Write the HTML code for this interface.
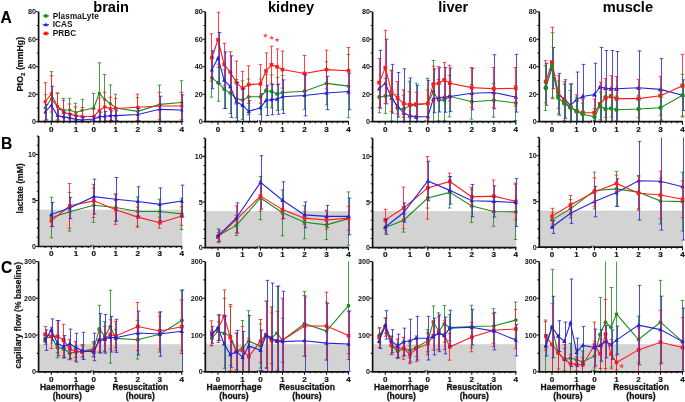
<!DOCTYPE html>
<html><head><meta charset="utf-8"><style>
html,body{margin:0;padding:0;background:#fff;}
svg{display:block;will-change:transform;}
</style></head><body>
<svg width="685" height="402" viewBox="0 0 685 402">
<rect width="685" height="402" fill="#fff"/>
<clipPath id="clipA0"><rect x="35.3" y="-8.3" width="154" height="130"/></clipPath>
<g clip-path="url(#clipA0)">
<path d="M45.5 94.75V121.15M43.7 94.75H47.3M43.7 121.15H47.3" stroke="#1e8a1e" stroke-width="1" stroke-opacity="0.82" fill="none"/>
<path d="M51.5 71.65V121.7M49.7 71.65H53.3M49.7 121.7H53.3" stroke="#1e8a1e" stroke-width="1" stroke-opacity="0.82" fill="none"/>
<path d="M57.5 93.65V120.05M55.7 93.65H59.3M55.7 120.05H59.3" stroke="#1e8a1e" stroke-width="1" stroke-opacity="0.82" fill="none"/>
<path d="M63.5 98.33V121.7M61.7 98.33H65.3M61.7 121.7H65.3" stroke="#1e8a1e" stroke-width="1" stroke-opacity="0.82" fill="none"/>
<path d="M69.5 98.33V121.7M67.7 98.33H71.3M67.7 121.7H71.3" stroke="#1e8a1e" stroke-width="1" stroke-opacity="0.82" fill="none"/>
<path d="M75.5 103.28V121.7M73.7 103.28H77.3M73.7 121.7H77.3" stroke="#1e8a1e" stroke-width="1" stroke-opacity="0.82" fill="none"/>
<path d="M82.5 99.29V121.56M80.7 99.29H84.3M80.7 121.56H84.3" stroke="#1e8a1e" stroke-width="1" stroke-opacity="0.82" fill="none"/>
<path d="M93.5 93.38V121.7M91.7 93.38H95.3M91.7 121.7H95.3" stroke="#1e8a1e" stroke-width="1" stroke-opacity="0.82" fill="none"/>
<path d="M99.5 62.85V121.7M97.7 62.85H101.3M97.7 121.7H101.3" stroke="#1e8a1e" stroke-width="1" stroke-opacity="0.82" fill="none"/>
<path d="M104.5 74.54V121.7M102.7 74.54H106.3M102.7 121.7H106.3" stroke="#1e8a1e" stroke-width="1" stroke-opacity="0.82" fill="none"/>
<path d="M110.5 84.99V121.7M108.7 84.99H112.3M108.7 121.7H112.3" stroke="#1e8a1e" stroke-width="1" stroke-opacity="0.82" fill="none"/>
<path d="M115.5 94.2V121.7M113.7 94.2H117.3M113.7 121.7H117.3" stroke="#1e8a1e" stroke-width="1" stroke-opacity="0.82" fill="none"/>
<path d="M137.5 97.64V121.7M135.7 97.64H139.3M135.7 121.7H139.3" stroke="#1e8a1e" stroke-width="1" stroke-opacity="0.82" fill="none"/>
<path d="M159.5 85.12V121.7M157.7 85.12H161.3M157.7 121.7H161.3" stroke="#1e8a1e" stroke-width="1" stroke-opacity="0.82" fill="none"/>
<path d="M181.5 80.72V121.7M179.7 80.72H183.3M179.7 121.7H183.3" stroke="#1e8a1e" stroke-width="1" stroke-opacity="0.82" fill="none"/>
<path d="M45.15 107.95 L51.3 98.74 L57.45 106.85 L63.6 110.01 L69.75 110.01 L75.9 112.49 L82.05 110.43 L93.8 107.95 L99.3 93.1 L104.8 99.7 L110.3 103.55 L115.8 107.95 L137.8 111.39 L159.8 104.38 L181.8 102.45" stroke="#1e8a1e" stroke-width="1.1" fill="none"/>
<circle cx="45.15" cy="107.95" r="1.61" fill="#1e8a1e"/>
<circle cx="51.3" cy="98.74" r="1.61" fill="#1e8a1e"/>
<circle cx="57.45" cy="106.85" r="1.61" fill="#1e8a1e"/>
<circle cx="63.6" cy="110.01" r="1.61" fill="#1e8a1e"/>
<circle cx="69.75" cy="110.01" r="1.61" fill="#1e8a1e"/>
<circle cx="75.9" cy="112.49" r="1.61" fill="#1e8a1e"/>
<circle cx="82.05" cy="110.43" r="1.61" fill="#1e8a1e"/>
<circle cx="93.8" cy="107.95" r="1.61" fill="#1e8a1e"/>
<circle cx="99.3" cy="93.1" r="1.61" fill="#1e8a1e"/>
<circle cx="104.8" cy="99.7" r="1.61" fill="#1e8a1e"/>
<circle cx="110.3" cy="103.55" r="1.61" fill="#1e8a1e"/>
<circle cx="115.8" cy="107.95" r="1.61" fill="#1e8a1e"/>
<circle cx="137.8" cy="111.39" r="1.61" fill="#1e8a1e"/>
<circle cx="159.8" cy="104.38" r="1.61" fill="#1e8a1e"/>
<circle cx="181.8" cy="102.45" r="1.61" fill="#1e8a1e"/>
<path d="M45.5 82.65V120.88M43.7 82.65H47.3M43.7 120.88H47.3" stroke="#ff1a1a" stroke-width="1" stroke-opacity="0.82" fill="none"/>
<path d="M51.5 75.78V112.08M49.7 75.78H53.3M49.7 112.08H53.3" stroke="#ff1a1a" stroke-width="1" stroke-opacity="0.82" fill="none"/>
<path d="M57.5 92.83V120.05M55.7 92.83H59.3M55.7 120.05H59.3" stroke="#ff1a1a" stroke-width="1" stroke-opacity="0.82" fill="none"/>
<path d="M63.5 100.39V121.7M61.7 100.39H65.3M61.7 121.7H65.3" stroke="#ff1a1a" stroke-width="1" stroke-opacity="0.82" fill="none"/>
<path d="M69.5 103.96V121.7M67.7 103.96H71.3M67.7 121.7H71.3" stroke="#ff1a1a" stroke-width="1" stroke-opacity="0.82" fill="none"/>
<path d="M75.5 106.85V121.7M73.7 106.85H77.3M73.7 121.7H77.3" stroke="#ff1a1a" stroke-width="1" stroke-opacity="0.82" fill="none"/>
<path d="M82.5 107.54V121.7M80.7 107.54H84.3M80.7 121.7H84.3" stroke="#ff1a1a" stroke-width="1" stroke-opacity="0.82" fill="none"/>
<path d="M93.5 109.33V121.7M91.7 109.33H95.3M91.7 121.7H95.3" stroke="#ff1a1a" stroke-width="1" stroke-opacity="0.82" fill="none"/>
<path d="M99.5 98.05V121.7M97.7 98.05H101.3M97.7 121.7H101.3" stroke="#ff1a1a" stroke-width="1" stroke-opacity="0.82" fill="none"/>
<path d="M104.5 92.28V121.42M102.7 92.28H106.3M102.7 121.42H106.3" stroke="#ff1a1a" stroke-width="1" stroke-opacity="0.82" fill="none"/>
<path d="M110.5 97.22V120.33M108.7 97.22H112.3M108.7 120.33H112.3" stroke="#ff1a1a" stroke-width="1" stroke-opacity="0.82" fill="none"/>
<path d="M115.5 98.33V118.67M113.7 98.33H117.3M113.7 118.67H117.3" stroke="#ff1a1a" stroke-width="1" stroke-opacity="0.82" fill="none"/>
<path d="M137.5 94.2V120.33M135.7 94.2H139.3M135.7 120.33H139.3" stroke="#ff1a1a" stroke-width="1" stroke-opacity="0.82" fill="none"/>
<path d="M159.5 92.28V119.78M157.7 92.28H161.3M157.7 119.78H161.3" stroke="#ff1a1a" stroke-width="1" stroke-opacity="0.82" fill="none"/>
<path d="M181.5 92.28V119.78M179.7 92.28H183.3M179.7 119.78H183.3" stroke="#ff1a1a" stroke-width="1" stroke-opacity="0.82" fill="none"/>
<path d="M45.15 101.76 L51.3 93.93 L57.45 106.44 L63.6 112.49 L69.75 114.14 L75.9 115.65 L82.05 116.48 L93.8 116.48 L99.3 110.43 L104.8 106.85 L110.3 108.78 L115.8 108.5 L137.8 107.26 L159.8 106.03 L181.8 106.03" stroke="#ff1a1a" stroke-width="1.1" fill="none"/>
<rect x="43.62" y="100.23" width="3.06" height="3.06" fill="#ff1a1a"/>
<rect x="49.77" y="92.4" width="3.06" height="3.06" fill="#ff1a1a"/>
<rect x="55.92" y="104.91" width="3.06" height="3.06" fill="#ff1a1a"/>
<rect x="62.07" y="110.96" width="3.06" height="3.06" fill="#ff1a1a"/>
<rect x="68.22" y="112.61" width="3.06" height="3.06" fill="#ff1a1a"/>
<rect x="74.37" y="114.12" width="3.06" height="3.06" fill="#ff1a1a"/>
<rect x="80.52" y="114.95" width="3.06" height="3.06" fill="#ff1a1a"/>
<rect x="92.27" y="114.95" width="3.06" height="3.06" fill="#ff1a1a"/>
<rect x="97.77" y="108.9" width="3.06" height="3.06" fill="#ff1a1a"/>
<rect x="103.27" y="105.32" width="3.06" height="3.06" fill="#ff1a1a"/>
<rect x="108.77" y="107.25" width="3.06" height="3.06" fill="#ff1a1a"/>
<rect x="114.27" y="106.97" width="3.06" height="3.06" fill="#ff1a1a"/>
<rect x="136.27" y="105.73" width="3.06" height="3.06" fill="#ff1a1a"/>
<rect x="158.27" y="104.5" width="3.06" height="3.06" fill="#ff1a1a"/>
<rect x="180.27" y="104.5" width="3.06" height="3.06" fill="#ff1a1a"/>
<path d="M46.5 104.38V119.78M44.7 104.38H48.3M44.7 119.78H48.3" stroke="#2424d6" stroke-width="1" stroke-opacity="0.82" fill="none"/>
<path d="M52.5 86.22V121.7M50.7 86.22H54.3M50.7 121.7H54.3" stroke="#2424d6" stroke-width="1" stroke-opacity="0.82" fill="none"/>
<path d="M58.5 109.33V121.7M56.7 109.33H60.3M56.7 121.7H60.3" stroke="#2424d6" stroke-width="1" stroke-opacity="0.82" fill="none"/>
<path d="M64.5 112.08V121.7M62.7 112.08H66.3M62.7 121.7H66.3" stroke="#2424d6" stroke-width="1" stroke-opacity="0.82" fill="none"/>
<path d="M70.5 113.73V121.7M68.7 113.73H72.3M68.7 121.7H72.3" stroke="#2424d6" stroke-width="1" stroke-opacity="0.82" fill="none"/>
<path d="M76.5 115.92V121.7M74.7 115.92H78.3M74.7 121.7H78.3" stroke="#2424d6" stroke-width="1" stroke-opacity="0.82" fill="none"/>
<path d="M83.5 117.3V121.7M81.7 117.3H85.3M81.7 121.7H85.3" stroke="#2424d6" stroke-width="1" stroke-opacity="0.82" fill="none"/>
<path d="M94.5 116.2V121.7M92.7 116.2H96.3M92.7 121.7H96.3" stroke="#2424d6" stroke-width="1" stroke-opacity="0.82" fill="none"/>
<path d="M100.5 112.08V121.7M98.7 112.08H102.3M98.7 121.7H102.3" stroke="#2424d6" stroke-width="1" stroke-opacity="0.82" fill="none"/>
<path d="M105.5 111.39V121.01M103.7 111.39H107.3M103.7 121.01H107.3" stroke="#2424d6" stroke-width="1" stroke-opacity="0.82" fill="none"/>
<path d="M111.5 110.84V120.46M109.7 110.84H113.3M109.7 120.46H113.3" stroke="#2424d6" stroke-width="1" stroke-opacity="0.82" fill="none"/>
<path d="M116.5 110.84V120.46M114.7 110.84H118.3M114.7 120.46H118.3" stroke="#2424d6" stroke-width="1" stroke-opacity="0.82" fill="none"/>
<path d="M138.5 108.5V120.6M136.7 108.5H140.3M136.7 120.6H140.3" stroke="#2424d6" stroke-width="1" stroke-opacity="0.82" fill="none"/>
<path d="M160.5 96.26V121.7M158.7 96.26H162.3M158.7 121.7H162.3" stroke="#2424d6" stroke-width="1" stroke-opacity="0.82" fill="none"/>
<path d="M182.5 94.75V121.7M180.7 94.75H184.3M180.7 121.7H184.3" stroke="#2424d6" stroke-width="1" stroke-opacity="0.82" fill="none"/>
<path d="M45.15 112.08 L51.3 105.2 L57.45 115.65 L63.6 116.89 L69.75 117.85 L75.9 119.36 L82.05 120.05 L93.8 118.95 L99.3 116.89 L104.8 116.2 L110.3 115.65 L115.8 115.65 L137.8 114.55 L159.8 109.33 L181.8 110.01" stroke="#2424d6" stroke-width="1.1" fill="none"/>
<path d="M45.15 110.02L46.93 113.5L43.37 113.5Z" fill="#2424d6"/>
<path d="M51.3 103.15L53.08 106.63L49.52 106.63Z" fill="#2424d6"/>
<path d="M57.45 113.6L59.23 117.08L55.66 117.08Z" fill="#2424d6"/>
<path d="M63.6 114.83L65.38 118.32L61.81 118.32Z" fill="#2424d6"/>
<path d="M69.75 115.8L71.53 119.28L67.97 119.28Z" fill="#2424d6"/>
<path d="M75.9 117.31L77.69 120.79L74.12 120.79Z" fill="#2424d6"/>
<path d="M82.05 118L83.83 121.48L80.27 121.48Z" fill="#2424d6"/>
<path d="M93.8 116.9L95.58 120.38L92.02 120.38Z" fill="#2424d6"/>
<path d="M99.3 114.83L101.08 118.32L97.52 118.32Z" fill="#2424d6"/>
<path d="M104.8 114.15L106.58 117.63L103.02 117.63Z" fill="#2424d6"/>
<path d="M110.3 113.6L112.08 117.08L108.52 117.08Z" fill="#2424d6"/>
<path d="M115.8 113.6L117.58 117.08L114.02 117.08Z" fill="#2424d6"/>
<path d="M137.8 112.5L139.59 115.98L136.02 115.98Z" fill="#2424d6"/>
<path d="M159.8 107.27L161.59 110.75L158.02 110.75Z" fill="#2424d6"/>
<path d="M181.8 107.96L183.59 111.44L180.02 111.44Z" fill="#2424d6"/>
</g>
<path d="M38.6 11.7V121.7" stroke="#111" stroke-width="1.7" fill="none"/>
<path d="M37.55 121.7H91.3M92.9 121.7H182.3" stroke="#111" stroke-width="1.7" fill="none"/>
<path d="M91.1 119.9V122.5M93.1 119.9V122.5" stroke="#222" stroke-width="0.9" fill="none"/>
<text x="36" y="124.2" font-size="7.2" text-anchor="end" font-family="Liberation Sans, sans-serif" font-weight="bold" fill="#111">0</text>
<text x="36" y="96.7" font-size="7.2" text-anchor="end" font-family="Liberation Sans, sans-serif" font-weight="bold" fill="#111">20</text>
<text x="36" y="69.2" font-size="7.2" text-anchor="end" font-family="Liberation Sans, sans-serif" font-weight="bold" fill="#111">40</text>
<text x="36" y="41.7" font-size="7.2" text-anchor="end" font-family="Liberation Sans, sans-serif" font-weight="bold" fill="#111">60</text>
<text x="36" y="14.2" font-size="7.2" text-anchor="end" font-family="Liberation Sans, sans-serif" font-weight="bold" fill="#111">80</text>
<text x="51.3" y="132" font-size="8.1" text-anchor="middle" font-family="Liberation Sans, sans-serif" font-weight="bold" stroke="#111" stroke-width="0.2" fill="#111">0</text>
<text x="75.9" y="132" font-size="8.1" text-anchor="middle" font-family="Liberation Sans, sans-serif" font-weight="bold" stroke="#111" stroke-width="0.2" fill="#111">1</text>
<text x="93.8" y="132" font-size="8.1" text-anchor="middle" font-family="Liberation Sans, sans-serif" font-weight="bold" stroke="#111" stroke-width="0.2" fill="#111">0</text>
<text x="115.8" y="132" font-size="8.1" text-anchor="middle" font-family="Liberation Sans, sans-serif" font-weight="bold" stroke="#111" stroke-width="0.2" fill="#111">1</text>
<text x="137.8" y="132" font-size="8.1" text-anchor="middle" font-family="Liberation Sans, sans-serif" font-weight="bold" stroke="#111" stroke-width="0.2" fill="#111">2</text>
<text x="159.8" y="132" font-size="8.1" text-anchor="middle" font-family="Liberation Sans, sans-serif" font-weight="bold" stroke="#111" stroke-width="0.2" fill="#111">3</text>
<text x="181.8" y="132" font-size="8.1" text-anchor="middle" font-family="Liberation Sans, sans-serif" font-weight="bold" stroke="#111" stroke-width="0.2" fill="#111">4</text>
<path d="M35.8 121.7H38.3M35.8 94.2H38.3M35.8 66.7H38.3M35.8 39.2H38.3M35.8 11.7H38.3M36.8 107.95H38.3M36.8 80.45H38.3M36.8 52.95H38.3M36.8 25.45H38.3M51.3 121.7V124.7M75.9 121.7V124.7M45.15 121.7V123.2M57.45 121.7V123.2M63.6 121.7V123.2M69.75 121.7V123.2M82.05 121.7V123.2M88.2 121.7V123.2M93.8 121.7V124.7M115.8 121.7V124.7M137.8 121.7V124.7M159.8 121.7V124.7M181.8 121.7V124.7M99.3 121.7V123.2M104.8 121.7V123.2M110.3 121.7V123.2M121.3 121.7V123.2M126.8 121.7V123.2M132.3 121.7V123.2M143.3 121.7V123.2M148.8 121.7V123.2M154.3 121.7V123.2M165.3 121.7V123.2M170.8 121.7V123.2M176.3 121.7V123.2" stroke="#111" stroke-width="1.1" fill="none"/>
<clipPath id="clipA1"><rect x="202" y="-8.3" width="154" height="130"/></clipPath>
<g clip-path="url(#clipA1)">
<path d="M211.5 58.59V97.09M209.7 58.59H213.3M209.7 97.09H213.3" stroke="#1e8a1e" stroke-width="1" stroke-opacity="0.82" fill="none"/>
<path d="M218.5 64.09V101.21M216.7 64.09H220.3M216.7 101.21H220.3" stroke="#1e8a1e" stroke-width="1" stroke-opacity="0.82" fill="none"/>
<path d="M224.5 69.86V108.36M222.7 69.86H226.3M222.7 108.36H226.3" stroke="#1e8a1e" stroke-width="1" stroke-opacity="0.82" fill="none"/>
<path d="M230.5 72.48V113.72M228.7 72.48H232.3M228.7 113.72H232.3" stroke="#1e8a1e" stroke-width="1" stroke-opacity="0.82" fill="none"/>
<path d="M236.5 79.49V117.99M234.7 79.49H238.3M234.7 117.99H238.3" stroke="#1e8a1e" stroke-width="1" stroke-opacity="0.82" fill="none"/>
<path d="M242.5 80.86V119.36M240.7 80.86H244.3M240.7 119.36H244.3" stroke="#1e8a1e" stroke-width="1" stroke-opacity="0.82" fill="none"/>
<path d="M248.5 78.94V114.69M246.7 78.94H250.3M246.7 114.69H250.3" stroke="#1e8a1e" stroke-width="1" stroke-opacity="0.82" fill="none"/>
<path d="M260.5 78.94V114.69M258.7 78.94H262.3M258.7 114.69H262.3" stroke="#1e8a1e" stroke-width="1" stroke-opacity="0.82" fill="none"/>
<path d="M266.5 74.26V107.26M264.7 74.26H268.3M264.7 107.26H268.3" stroke="#1e8a1e" stroke-width="1" stroke-opacity="0.82" fill="none"/>
<path d="M271.5 74.95V107.95M269.7 74.95H273.3M269.7 107.95H273.3" stroke="#1e8a1e" stroke-width="1" stroke-opacity="0.82" fill="none"/>
<path d="M277.5 77.42V110.43M275.7 77.42H279.3M275.7 110.43H279.3" stroke="#1e8a1e" stroke-width="1" stroke-opacity="0.82" fill="none"/>
<path d="M282.5 75.36V109.74M280.7 75.36H284.3M280.7 109.74H284.3" stroke="#1e8a1e" stroke-width="1" stroke-opacity="0.82" fill="none"/>
<path d="M304.5 73.03V109.33M302.7 73.03H306.3M302.7 109.33H306.3" stroke="#1e8a1e" stroke-width="1" stroke-opacity="0.82" fill="none"/>
<path d="M326.5 61.75V104.93M324.7 61.75H328.3M324.7 104.93H328.3" stroke="#1e8a1e" stroke-width="1" stroke-opacity="0.82" fill="none"/>
<path d="M348.5 54.46V117.71M346.7 54.46H350.3M346.7 117.71H350.3" stroke="#1e8a1e" stroke-width="1" stroke-opacity="0.82" fill="none"/>
<path d="M211.85 77.84 L218 82.65 L224.15 89.11 L230.3 93.1 L236.45 98.74 L242.6 100.11 L248.75 96.81 L260.5 96.81 L266 90.76 L271.5 91.45 L277 93.93 L282.5 92.55 L304.5 91.18 L326.5 83.34 L348.5 86.09" stroke="#1e8a1e" stroke-width="1.1" fill="none"/>
<circle cx="211.85" cy="77.84" r="1.9" fill="#1e8a1e"/>
<circle cx="218" cy="82.65" r="1.9" fill="#1e8a1e"/>
<circle cx="224.15" cy="89.11" r="1.9" fill="#1e8a1e"/>
<circle cx="230.3" cy="93.1" r="1.9" fill="#1e8a1e"/>
<circle cx="236.45" cy="98.74" r="1.9" fill="#1e8a1e"/>
<circle cx="242.6" cy="100.11" r="1.9" fill="#1e8a1e"/>
<circle cx="248.75" cy="96.81" r="1.9" fill="#1e8a1e"/>
<circle cx="260.5" cy="96.81" r="1.9" fill="#1e8a1e"/>
<circle cx="266" cy="90.76" r="1.9" fill="#1e8a1e"/>
<circle cx="271.5" cy="91.45" r="1.9" fill="#1e8a1e"/>
<circle cx="277" cy="93.93" r="1.9" fill="#1e8a1e"/>
<circle cx="282.5" cy="92.55" r="1.9" fill="#1e8a1e"/>
<circle cx="304.5" cy="91.18" r="1.9" fill="#1e8a1e"/>
<circle cx="326.5" cy="83.34" r="1.9" fill="#1e8a1e"/>
<circle cx="348.5" cy="86.09" r="1.9" fill="#1e8a1e"/>
<path d="M211.5 33.84V81.14M209.7 33.84H213.3M209.7 81.14H213.3" stroke="#ff1a1a" stroke-width="1" stroke-opacity="0.82" fill="none"/>
<path d="M218.5 12.25V67.25M216.7 12.25H220.3M216.7 67.25H220.3" stroke="#ff1a1a" stroke-width="1" stroke-opacity="0.82" fill="none"/>
<path d="M224.5 43.33V85.67M222.7 43.33H226.3M222.7 85.67H226.3" stroke="#ff1a1a" stroke-width="1" stroke-opacity="0.82" fill="none"/>
<path d="M230.5 51.85V92.28M228.7 51.85H232.3M228.7 92.28H232.3" stroke="#ff1a1a" stroke-width="1" stroke-opacity="0.82" fill="none"/>
<path d="M236.5 61.06V104.24M234.7 61.06H238.3M234.7 104.24H238.3" stroke="#ff1a1a" stroke-width="1" stroke-opacity="0.82" fill="none"/>
<path d="M242.5 71.24V105.34M240.7 71.24H244.3M240.7 105.34H244.3" stroke="#ff1a1a" stroke-width="1" stroke-opacity="0.82" fill="none"/>
<path d="M248.5 65.74V103.41M246.7 65.74H250.3M246.7 103.41H250.3" stroke="#ff1a1a" stroke-width="1" stroke-opacity="0.82" fill="none"/>
<path d="M260.5 64.64V103.14M258.7 64.64H262.3M258.7 103.14H262.3" stroke="#ff1a1a" stroke-width="1" stroke-opacity="0.82" fill="none"/>
<path d="M266.5 52.95V88.98M264.7 52.95H268.3M264.7 88.98H268.3" stroke="#ff1a1a" stroke-width="1" stroke-opacity="0.82" fill="none"/>
<path d="M271.5 46.21V83.34M269.7 46.21H273.3M269.7 83.34H273.3" stroke="#ff1a1a" stroke-width="1" stroke-opacity="0.82" fill="none"/>
<path d="M277.5 48.96V84.71M275.7 48.96H279.3M275.7 84.71H279.3" stroke="#ff1a1a" stroke-width="1" stroke-opacity="0.82" fill="none"/>
<path d="M282.5 51.03V88.15M280.7 51.03H284.3M280.7 88.15H284.3" stroke="#ff1a1a" stroke-width="1" stroke-opacity="0.82" fill="none"/>
<path d="M304.5 55.42V91.45M302.7 55.42H306.3M302.7 91.45H306.3" stroke="#ff1a1a" stroke-width="1" stroke-opacity="0.82" fill="none"/>
<path d="M326.5 50.2V88.98M324.7 50.2H328.3M324.7 88.98H328.3" stroke="#ff1a1a" stroke-width="1" stroke-opacity="0.82" fill="none"/>
<path d="M348.5 47.45V93.92M346.7 47.45H350.3M346.7 93.92H350.3" stroke="#ff1a1a" stroke-width="1" stroke-opacity="0.82" fill="none"/>
<path d="M211.85 57.49 L218 39.75 L224.15 64.5 L230.3 72.06 L236.45 82.65 L242.6 88.29 L248.75 84.58 L260.5 83.89 L266 70.96 L271.5 64.78 L277 66.84 L282.5 69.59 L304.5 73.44 L326.5 69.59 L348.5 70.69" stroke="#ff1a1a" stroke-width="1.1" fill="none"/>
<rect x="210.05" y="55.69" width="3.6" height="3.6" fill="#ff1a1a"/>
<rect x="216.2" y="37.95" width="3.6" height="3.6" fill="#ff1a1a"/>
<rect x="222.35" y="62.7" width="3.6" height="3.6" fill="#ff1a1a"/>
<rect x="228.5" y="70.26" width="3.6" height="3.6" fill="#ff1a1a"/>
<rect x="234.65" y="80.85" width="3.6" height="3.6" fill="#ff1a1a"/>
<rect x="240.8" y="86.49" width="3.6" height="3.6" fill="#ff1a1a"/>
<rect x="246.95" y="82.78" width="3.6" height="3.6" fill="#ff1a1a"/>
<rect x="258.7" y="82.09" width="3.6" height="3.6" fill="#ff1a1a"/>
<rect x="264.2" y="69.16" width="3.6" height="3.6" fill="#ff1a1a"/>
<rect x="269.7" y="62.98" width="3.6" height="3.6" fill="#ff1a1a"/>
<rect x="275.2" y="65.04" width="3.6" height="3.6" fill="#ff1a1a"/>
<rect x="280.7" y="67.79" width="3.6" height="3.6" fill="#ff1a1a"/>
<rect x="302.7" y="71.64" width="3.6" height="3.6" fill="#ff1a1a"/>
<rect x="324.7" y="67.79" width="3.6" height="3.6" fill="#ff1a1a"/>
<rect x="346.7" y="68.89" width="3.6" height="3.6" fill="#ff1a1a"/>
<path d="M212.5 50.75V88.7M210.7 50.75H214.3M210.7 88.7H214.3" stroke="#2424d6" stroke-width="1" stroke-opacity="0.82" fill="none"/>
<path d="M219.5 32.46V83.61M217.7 32.46H221.3M217.7 83.61H221.3" stroke="#2424d6" stroke-width="1" stroke-opacity="0.82" fill="none"/>
<path d="M225.5 51.85V108.5M223.7 51.85H227.3M223.7 108.5H227.3" stroke="#2424d6" stroke-width="1" stroke-opacity="0.82" fill="none"/>
<path d="M231.5 55.84V117.44M229.7 55.84H233.3M229.7 117.44H233.3" stroke="#2424d6" stroke-width="1" stroke-opacity="0.82" fill="none"/>
<path d="M237.5 82.51V121.01M235.7 82.51H239.3M235.7 121.01H239.3" stroke="#2424d6" stroke-width="1" stroke-opacity="0.82" fill="none"/>
<path d="M243.5 88.7V121.7M241.7 88.7H245.3M241.7 121.7H245.3" stroke="#2424d6" stroke-width="1" stroke-opacity="0.82" fill="none"/>
<path d="M249.5 100.39V121.7M247.7 100.39H251.3M247.7 121.7H251.3" stroke="#2424d6" stroke-width="1" stroke-opacity="0.82" fill="none"/>
<path d="M261.5 93.65V121.7M259.7 93.65H263.3M259.7 121.7H263.3" stroke="#2424d6" stroke-width="1" stroke-opacity="0.82" fill="none"/>
<path d="M267.5 85.26V115.51M265.7 85.26H269.3M265.7 115.51H269.3" stroke="#2424d6" stroke-width="1" stroke-opacity="0.82" fill="none"/>
<path d="M272.5 84.44V114.69M270.7 84.44H274.3M270.7 114.69H274.3" stroke="#2424d6" stroke-width="1" stroke-opacity="0.82" fill="none"/>
<path d="M278.5 84.03V114.28M276.7 84.03H280.3M276.7 114.28H280.3" stroke="#2424d6" stroke-width="1" stroke-opacity="0.82" fill="none"/>
<path d="M283.5 79.9V113.45M281.7 79.9H285.3M281.7 113.45H285.3" stroke="#2424d6" stroke-width="1" stroke-opacity="0.82" fill="none"/>
<path d="M305.5 74.95V115.92M303.7 74.95H307.3M303.7 115.92H307.3" stroke="#2424d6" stroke-width="1" stroke-opacity="0.82" fill="none"/>
<path d="M327.5 76.33V109.6M325.7 76.33H329.3M325.7 109.6H329.3" stroke="#2424d6" stroke-width="1" stroke-opacity="0.82" fill="none"/>
<path d="M349.5 73.16V109.74M347.7 73.16H351.3M347.7 109.74H351.3" stroke="#2424d6" stroke-width="1" stroke-opacity="0.82" fill="none"/>
<path d="M211.85 69.73 L218 58.04 L224.15 80.18 L230.3 86.64 L236.45 101.76 L242.6 105.2 L248.75 111.39 L260.5 107.68 L266 100.39 L271.5 99.56 L277 99.15 L282.5 96.68 L304.5 95.44 L326.5 92.96 L348.5 91.45" stroke="#2424d6" stroke-width="1.1" fill="none"/>
<path d="M211.85 67.31L213.95 71.41L209.75 71.41Z" fill="#2424d6"/>
<path d="M218 55.62L220.1 59.72L215.9 59.72Z" fill="#2424d6"/>
<path d="M224.15 77.76L226.25 81.86L222.05 81.86Z" fill="#2424d6"/>
<path d="M230.3 84.22L232.4 88.32L228.2 88.32Z" fill="#2424d6"/>
<path d="M236.45 99.35L238.55 103.44L234.35 103.44Z" fill="#2424d6"/>
<path d="M242.6 102.78L244.7 106.88L240.5 106.88Z" fill="#2424d6"/>
<path d="M248.75 108.97L250.85 113.07L246.65 113.07Z" fill="#2424d6"/>
<path d="M260.5 105.26L262.6 109.36L258.4 109.36Z" fill="#2424d6"/>
<path d="M266 97.97L268.1 102.07L263.9 102.07Z" fill="#2424d6"/>
<path d="M271.5 97.15L273.6 101.24L269.4 101.24Z" fill="#2424d6"/>
<path d="M277 96.73L279.1 100.83L274.9 100.83Z" fill="#2424d6"/>
<path d="M282.5 94.26L284.6 98.36L280.4 98.36Z" fill="#2424d6"/>
<path d="M304.5 93.02L306.6 97.12L302.4 97.12Z" fill="#2424d6"/>
<path d="M326.5 90.55L328.6 94.64L324.4 94.64Z" fill="#2424d6"/>
<path d="M348.5 89.03L350.6 93.13L346.4 93.13Z" fill="#2424d6"/>
</g>
<path d="M205.3 11.7V121.7" stroke="#111" stroke-width="1.7" fill="none"/>
<path d="M204.25 121.7H258M259.6 121.7H349" stroke="#111" stroke-width="1.7" fill="none"/>
<path d="M257.8 119.9V122.5M259.8 119.9V122.5" stroke="#222" stroke-width="0.9" fill="none"/>
<text x="202.7" y="124.2" font-size="7.2" text-anchor="end" font-family="Liberation Sans, sans-serif" font-weight="bold" fill="#111">0</text>
<text x="202.7" y="96.7" font-size="7.2" text-anchor="end" font-family="Liberation Sans, sans-serif" font-weight="bold" fill="#111">20</text>
<text x="202.7" y="69.2" font-size="7.2" text-anchor="end" font-family="Liberation Sans, sans-serif" font-weight="bold" fill="#111">40</text>
<text x="202.7" y="41.7" font-size="7.2" text-anchor="end" font-family="Liberation Sans, sans-serif" font-weight="bold" fill="#111">60</text>
<text x="202.7" y="14.2" font-size="7.2" text-anchor="end" font-family="Liberation Sans, sans-serif" font-weight="bold" fill="#111">80</text>
<text x="218" y="132" font-size="8.1" text-anchor="middle" font-family="Liberation Sans, sans-serif" font-weight="bold" stroke="#111" stroke-width="0.2" fill="#111">0</text>
<text x="242.6" y="132" font-size="8.1" text-anchor="middle" font-family="Liberation Sans, sans-serif" font-weight="bold" stroke="#111" stroke-width="0.2" fill="#111">1</text>
<text x="260.5" y="132" font-size="8.1" text-anchor="middle" font-family="Liberation Sans, sans-serif" font-weight="bold" stroke="#111" stroke-width="0.2" fill="#111">0</text>
<text x="282.5" y="132" font-size="8.1" text-anchor="middle" font-family="Liberation Sans, sans-serif" font-weight="bold" stroke="#111" stroke-width="0.2" fill="#111">1</text>
<text x="304.5" y="132" font-size="8.1" text-anchor="middle" font-family="Liberation Sans, sans-serif" font-weight="bold" stroke="#111" stroke-width="0.2" fill="#111">2</text>
<text x="326.5" y="132" font-size="8.1" text-anchor="middle" font-family="Liberation Sans, sans-serif" font-weight="bold" stroke="#111" stroke-width="0.2" fill="#111">3</text>
<text x="348.5" y="132" font-size="8.1" text-anchor="middle" font-family="Liberation Sans, sans-serif" font-weight="bold" stroke="#111" stroke-width="0.2" fill="#111">4</text>
<path d="M202.5 121.7H205M202.5 94.2H205M202.5 66.7H205M202.5 39.2H205M202.5 11.7H205M203.5 107.95H205M203.5 80.45H205M203.5 52.95H205M203.5 25.45H205M218 121.7V124.7M242.6 121.7V124.7M211.85 121.7V123.2M224.15 121.7V123.2M230.3 121.7V123.2M236.45 121.7V123.2M248.75 121.7V123.2M254.9 121.7V123.2M260.5 121.7V124.7M282.5 121.7V124.7M304.5 121.7V124.7M326.5 121.7V124.7M348.5 121.7V124.7M266 121.7V123.2M271.5 121.7V123.2M277 121.7V123.2M288 121.7V123.2M293.5 121.7V123.2M299 121.7V123.2M310 121.7V123.2M315.5 121.7V123.2M321 121.7V123.2M332 121.7V123.2M337.5 121.7V123.2M343 121.7V123.2" stroke="#111" stroke-width="1.1" fill="none"/>
<clipPath id="clipA2"><rect x="369.3" y="-8.3" width="154" height="130"/></clipPath>
<g clip-path="url(#clipA2)">
<path d="M379.5 81.41V112.76M377.7 81.41H381.3M377.7 112.76H381.3" stroke="#1e8a1e" stroke-width="1" stroke-opacity="0.82" fill="none"/>
<path d="M385.5 78.53V113.45M383.7 78.53H387.3M383.7 113.45H387.3" stroke="#1e8a1e" stroke-width="1" stroke-opacity="0.82" fill="none"/>
<path d="M391.5 70.14V121.01M389.7 70.14H393.3M389.7 121.01H393.3" stroke="#1e8a1e" stroke-width="1" stroke-opacity="0.82" fill="none"/>
<path d="M397.5 94.61V121.7M395.7 94.61H399.3M395.7 121.7H399.3" stroke="#1e8a1e" stroke-width="1" stroke-opacity="0.82" fill="none"/>
<path d="M403.5 95.3V121.7M401.7 95.3H405.3M401.7 121.7H405.3" stroke="#1e8a1e" stroke-width="1" stroke-opacity="0.82" fill="none"/>
<path d="M409.5 81.14V121.7M407.7 81.14H411.3M407.7 121.7H411.3" stroke="#1e8a1e" stroke-width="1" stroke-opacity="0.82" fill="none"/>
<path d="M416.5 83.2V121.7M414.7 83.2H418.3M414.7 121.7H418.3" stroke="#1e8a1e" stroke-width="1" stroke-opacity="0.82" fill="none"/>
<path d="M427.5 78.25V121.7M425.7 78.25H429.3M425.7 121.7H429.3" stroke="#1e8a1e" stroke-width="1" stroke-opacity="0.82" fill="none"/>
<path d="M433.5 60.51V121.7M431.7 60.51H435.3M431.7 121.7H435.3" stroke="#1e8a1e" stroke-width="1" stroke-opacity="0.82" fill="none"/>
<path d="M438.5 79.49V120.74M436.7 79.49H440.3M436.7 120.74H440.3" stroke="#1e8a1e" stroke-width="1" stroke-opacity="0.82" fill="none"/>
<path d="M444.5 79.49V120.74M442.7 79.49H446.3M442.7 120.74H446.3" stroke="#1e8a1e" stroke-width="1" stroke-opacity="0.82" fill="none"/>
<path d="M449.5 75.64V116.89M447.7 75.64H451.3M447.7 116.89H451.3" stroke="#1e8a1e" stroke-width="1" stroke-opacity="0.82" fill="none"/>
<path d="M471.5 84.44V119.09M469.7 84.44H473.3M469.7 119.09H473.3" stroke="#1e8a1e" stroke-width="1" stroke-opacity="0.82" fill="none"/>
<path d="M493.5 83.34V117.16M491.7 83.34H495.3M491.7 117.16H495.3" stroke="#1e8a1e" stroke-width="1" stroke-opacity="0.82" fill="none"/>
<path d="M515.5 85.54V120.46M513.7 85.54H517.3M513.7 120.46H517.3" stroke="#1e8a1e" stroke-width="1" stroke-opacity="0.82" fill="none"/>
<path d="M379.15 97.09 L385.3 95.99 L391.45 95.58 L397.6 108.36 L403.75 109.05 L409.9 105.61 L416.05 105.06 L427.8 103.55 L433.3 91.86 L438.8 100.11 L444.3 100.11 L449.8 96.26 L471.8 101.76 L493.8 100.25 L515.8 103" stroke="#1e8a1e" stroke-width="1.1" fill="none"/>
<circle cx="379.15" cy="97.09" r="1.99" fill="#1e8a1e"/>
<circle cx="385.3" cy="95.99" r="1.99" fill="#1e8a1e"/>
<circle cx="391.45" cy="95.58" r="1.99" fill="#1e8a1e"/>
<circle cx="397.6" cy="108.36" r="1.99" fill="#1e8a1e"/>
<circle cx="403.75" cy="109.05" r="1.99" fill="#1e8a1e"/>
<circle cx="409.9" cy="105.61" r="1.99" fill="#1e8a1e"/>
<circle cx="416.05" cy="105.06" r="1.99" fill="#1e8a1e"/>
<circle cx="427.8" cy="103.55" r="1.99" fill="#1e8a1e"/>
<circle cx="433.3" cy="91.86" r="1.99" fill="#1e8a1e"/>
<circle cx="438.8" cy="100.11" r="1.99" fill="#1e8a1e"/>
<circle cx="444.3" cy="100.11" r="1.99" fill="#1e8a1e"/>
<circle cx="449.8" cy="96.26" r="1.99" fill="#1e8a1e"/>
<circle cx="471.8" cy="101.76" r="1.99" fill="#1e8a1e"/>
<circle cx="493.8" cy="100.25" r="1.99" fill="#1e8a1e"/>
<circle cx="515.8" cy="103" r="1.99" fill="#1e8a1e"/>
<path d="M380.5 50.34V108.09M378.7 50.34H382.3M378.7 108.09H382.3" stroke="#2424d6" stroke-width="1" stroke-opacity="0.82" fill="none"/>
<path d="M386.5 39.2V103.83M384.7 39.2H388.3M384.7 103.83H388.3" stroke="#2424d6" stroke-width="1" stroke-opacity="0.82" fill="none"/>
<path d="M392.5 64.36V113.18M390.7 64.36H394.3M390.7 113.18H394.3" stroke="#2424d6" stroke-width="1" stroke-opacity="0.82" fill="none"/>
<path d="M398.5 72.48V117.03M396.7 72.48H400.3M396.7 117.03H400.3" stroke="#2424d6" stroke-width="1" stroke-opacity="0.82" fill="none"/>
<path d="M404.5 68.76V121.7M402.7 68.76H406.3M402.7 121.7H406.3" stroke="#2424d6" stroke-width="1" stroke-opacity="0.82" fill="none"/>
<path d="M410.5 77.98V121.7M408.7 77.98H412.3M408.7 121.7H412.3" stroke="#2424d6" stroke-width="1" stroke-opacity="0.82" fill="none"/>
<path d="M417.5 85.26V121.7M415.7 85.26H419.3M415.7 121.7H419.3" stroke="#2424d6" stroke-width="1" stroke-opacity="0.82" fill="none"/>
<path d="M428.5 80.31V121.7M426.7 80.31H430.3M426.7 121.7H430.3" stroke="#2424d6" stroke-width="1" stroke-opacity="0.82" fill="none"/>
<path d="M434.5 68.76V112.76M432.7 68.76H436.3M432.7 112.76H436.3" stroke="#2424d6" stroke-width="1" stroke-opacity="0.82" fill="none"/>
<path d="M439.5 67.8V111.94M437.7 67.8H441.3M437.7 111.94H441.3" stroke="#2424d6" stroke-width="1" stroke-opacity="0.82" fill="none"/>
<path d="M445.5 67.53V112.21M443.7 67.53H447.3M443.7 112.21H447.3" stroke="#2424d6" stroke-width="1" stroke-opacity="0.82" fill="none"/>
<path d="M450.5 67.94V111.66M448.7 67.94H452.3M448.7 111.66H452.3" stroke="#2424d6" stroke-width="1" stroke-opacity="0.82" fill="none"/>
<path d="M472.5 68.63V109.74M470.7 68.63H474.3M470.7 109.74H474.3" stroke="#2424d6" stroke-width="1" stroke-opacity="0.82" fill="none"/>
<path d="M494.5 54.74V108.78M492.7 54.74H496.3M492.7 108.78H496.3" stroke="#2424d6" stroke-width="1" stroke-opacity="0.82" fill="none"/>
<path d="M516.5 54.33V112.08M514.7 54.33H518.3M514.7 112.08H518.3" stroke="#2424d6" stroke-width="1" stroke-opacity="0.82" fill="none"/>
<path d="M379.15 88.84 L385.3 83.2 L391.45 98.05 L397.6 106.03 L403.75 113.04 L409.9 115.65 L416.05 116.89 L427.8 116.48 L433.3 99.01 L438.8 97.5 L444.3 97.09 L449.8 96.54 L471.8 93.24 L493.8 92.55 L515.8 97.09" stroke="#2424d6" stroke-width="1.1" fill="none"/>
<path d="M379.15 86.3L381.36 90.6L376.95 90.6Z" fill="#2424d6"/>
<path d="M385.3 80.66L387.5 84.96L383.1 84.96Z" fill="#2424d6"/>
<path d="M391.45 95.51L393.65 99.81L389.25 99.81Z" fill="#2424d6"/>
<path d="M397.6 103.49L399.81 107.79L395.4 107.79Z" fill="#2424d6"/>
<path d="M403.75 110.5L405.95 114.8L401.55 114.8Z" fill="#2424d6"/>
<path d="M409.9 113.11L412.11 117.41L407.7 117.41Z" fill="#2424d6"/>
<path d="M416.05 114.35L418.25 118.65L413.85 118.65Z" fill="#2424d6"/>
<path d="M427.8 113.94L430 118.24L425.6 118.24Z" fill="#2424d6"/>
<path d="M433.3 96.48L435.5 100.78L431.1 100.78Z" fill="#2424d6"/>
<path d="M438.8 94.96L441 99.26L436.6 99.26Z" fill="#2424d6"/>
<path d="M444.3 94.55L446.5 98.85L442.1 98.85Z" fill="#2424d6"/>
<path d="M449.8 94L452 98.3L447.6 98.3Z" fill="#2424d6"/>
<path d="M471.8 90.7L474 95L469.6 95Z" fill="#2424d6"/>
<path d="M493.8 90.01L496 94.31L491.6 94.31Z" fill="#2424d6"/>
<path d="M515.8 94.55L518 98.85L513.59 98.85Z" fill="#2424d6"/>
<path d="M379.5 58.45V107.4M377.7 58.45H381.3M377.7 107.4H381.3" stroke="#ff1a1a" stroke-width="1" stroke-opacity="0.82" fill="none"/>
<path d="M385.5 30.26V103.41M383.7 30.26H387.3M383.7 103.41H387.3" stroke="#ff1a1a" stroke-width="1" stroke-opacity="0.82" fill="none"/>
<path d="M391.5 70.69V111.66M389.7 70.69H393.3M389.7 111.66H393.3" stroke="#ff1a1a" stroke-width="1" stroke-opacity="0.82" fill="none"/>
<path d="M397.5 81.55V114M395.7 81.55H399.3M395.7 114H399.3" stroke="#ff1a1a" stroke-width="1" stroke-opacity="0.82" fill="none"/>
<path d="M403.5 89.8V117.3M401.7 89.8H405.3M401.7 117.3H405.3" stroke="#ff1a1a" stroke-width="1" stroke-opacity="0.82" fill="none"/>
<path d="M409.5 91.72V117.58M407.7 91.72H411.3M407.7 117.58H411.3" stroke="#ff1a1a" stroke-width="1" stroke-opacity="0.82" fill="none"/>
<path d="M416.5 92.41V115.79M414.7 92.41H418.3M414.7 115.79H418.3" stroke="#ff1a1a" stroke-width="1" stroke-opacity="0.82" fill="none"/>
<path d="M427.5 89.8V121.7M425.7 89.8H429.3M425.7 121.7H429.3" stroke="#ff1a1a" stroke-width="1" stroke-opacity="0.82" fill="none"/>
<path d="M433.5 66.15V102.17M431.7 66.15H435.3M431.7 102.17H435.3" stroke="#ff1a1a" stroke-width="1" stroke-opacity="0.82" fill="none"/>
<path d="M438.5 66.7V99.7M436.7 66.7H440.3M436.7 99.7H440.3" stroke="#ff1a1a" stroke-width="1" stroke-opacity="0.82" fill="none"/>
<path d="M444.5 62.58V97.23M442.7 62.58H446.3M442.7 97.23H446.3" stroke="#ff1a1a" stroke-width="1" stroke-opacity="0.82" fill="none"/>
<path d="M449.5 65.33V101.08M447.7 65.33H451.3M447.7 101.08H451.3" stroke="#ff1a1a" stroke-width="1" stroke-opacity="0.82" fill="none"/>
<path d="M471.5 67.53V107.67M469.7 67.53H473.3M469.7 107.67H473.3" stroke="#ff1a1a" stroke-width="1" stroke-opacity="0.82" fill="none"/>
<path d="M493.5 67.53V107.68M491.7 67.53H495.3M491.7 107.68H495.3" stroke="#ff1a1a" stroke-width="1" stroke-opacity="0.82" fill="none"/>
<path d="M515.5 67.53V106.16M513.7 67.53H517.3M513.7 106.16H517.3" stroke="#ff1a1a" stroke-width="1" stroke-opacity="0.82" fill="none"/>
<path d="M379.15 82.65 L385.3 67.66 L391.45 91.59 L397.6 98.05 L403.75 103.55 L409.9 104.65 L416.05 104.1 L427.8 103.55 L433.3 84.16 L438.8 83.2 L444.3 79.9 L449.8 83.2 L471.8 87.6 L493.8 88.7 L515.8 88.29" stroke="#ff1a1a" stroke-width="1.1" fill="none"/>
<rect x="377.26" y="80.76" width="3.78" height="3.78" fill="#ff1a1a"/>
<rect x="383.41" y="65.77" width="3.78" height="3.78" fill="#ff1a1a"/>
<rect x="389.56" y="89.7" width="3.78" height="3.78" fill="#ff1a1a"/>
<rect x="395.71" y="96.16" width="3.78" height="3.78" fill="#ff1a1a"/>
<rect x="401.86" y="101.66" width="3.78" height="3.78" fill="#ff1a1a"/>
<rect x="408.01" y="102.76" width="3.78" height="3.78" fill="#ff1a1a"/>
<rect x="414.16" y="102.21" width="3.78" height="3.78" fill="#ff1a1a"/>
<rect x="425.91" y="101.66" width="3.78" height="3.78" fill="#ff1a1a"/>
<rect x="431.41" y="82.27" width="3.78" height="3.78" fill="#ff1a1a"/>
<rect x="436.91" y="81.31" width="3.78" height="3.78" fill="#ff1a1a"/>
<rect x="442.41" y="78.01" width="3.78" height="3.78" fill="#ff1a1a"/>
<rect x="447.91" y="81.31" width="3.78" height="3.78" fill="#ff1a1a"/>
<rect x="469.91" y="85.71" width="3.78" height="3.78" fill="#ff1a1a"/>
<rect x="491.91" y="86.81" width="3.78" height="3.78" fill="#ff1a1a"/>
<rect x="513.91" y="86.4" width="3.78" height="3.78" fill="#ff1a1a"/>
</g>
<path d="M372.6 11.7V121.7" stroke="#111" stroke-width="1.7" fill="none"/>
<path d="M371.55 121.7H425.3M426.9 121.7H516.3" stroke="#111" stroke-width="1.7" fill="none"/>
<path d="M425.1 119.9V122.5M427.1 119.9V122.5" stroke="#222" stroke-width="0.9" fill="none"/>
<text x="370" y="124.2" font-size="7.2" text-anchor="end" font-family="Liberation Sans, sans-serif" font-weight="bold" fill="#111">0</text>
<text x="370" y="96.7" font-size="7.2" text-anchor="end" font-family="Liberation Sans, sans-serif" font-weight="bold" fill="#111">20</text>
<text x="370" y="69.2" font-size="7.2" text-anchor="end" font-family="Liberation Sans, sans-serif" font-weight="bold" fill="#111">40</text>
<text x="370" y="41.7" font-size="7.2" text-anchor="end" font-family="Liberation Sans, sans-serif" font-weight="bold" fill="#111">60</text>
<text x="370" y="14.2" font-size="7.2" text-anchor="end" font-family="Liberation Sans, sans-serif" font-weight="bold" fill="#111">80</text>
<text x="385.3" y="132" font-size="8.1" text-anchor="middle" font-family="Liberation Sans, sans-serif" font-weight="bold" stroke="#111" stroke-width="0.2" fill="#111">0</text>
<text x="409.9" y="132" font-size="8.1" text-anchor="middle" font-family="Liberation Sans, sans-serif" font-weight="bold" stroke="#111" stroke-width="0.2" fill="#111">1</text>
<text x="427.8" y="132" font-size="8.1" text-anchor="middle" font-family="Liberation Sans, sans-serif" font-weight="bold" stroke="#111" stroke-width="0.2" fill="#111">0</text>
<text x="449.8" y="132" font-size="8.1" text-anchor="middle" font-family="Liberation Sans, sans-serif" font-weight="bold" stroke="#111" stroke-width="0.2" fill="#111">1</text>
<text x="471.8" y="132" font-size="8.1" text-anchor="middle" font-family="Liberation Sans, sans-serif" font-weight="bold" stroke="#111" stroke-width="0.2" fill="#111">2</text>
<text x="493.8" y="132" font-size="8.1" text-anchor="middle" font-family="Liberation Sans, sans-serif" font-weight="bold" stroke="#111" stroke-width="0.2" fill="#111">3</text>
<text x="515.8" y="132" font-size="8.1" text-anchor="middle" font-family="Liberation Sans, sans-serif" font-weight="bold" stroke="#111" stroke-width="0.2" fill="#111">4</text>
<path d="M369.8 121.7H372.3M369.8 94.2H372.3M369.8 66.7H372.3M369.8 39.2H372.3M369.8 11.7H372.3M370.8 107.95H372.3M370.8 80.45H372.3M370.8 52.95H372.3M370.8 25.45H372.3M385.3 121.7V124.7M409.9 121.7V124.7M379.15 121.7V123.2M391.45 121.7V123.2M397.6 121.7V123.2M403.75 121.7V123.2M416.05 121.7V123.2M422.2 121.7V123.2M427.8 121.7V124.7M449.8 121.7V124.7M471.8 121.7V124.7M493.8 121.7V124.7M515.8 121.7V124.7M433.3 121.7V123.2M438.8 121.7V123.2M444.3 121.7V123.2M455.3 121.7V123.2M460.8 121.7V123.2M466.3 121.7V123.2M477.3 121.7V123.2M482.8 121.7V123.2M488.3 121.7V123.2M499.3 121.7V123.2M504.8 121.7V123.2M510.3 121.7V123.2" stroke="#111" stroke-width="1.1" fill="none"/>
<clipPath id="clipA3"><rect x="536" y="-8.3" width="154" height="130"/></clipPath>
<g clip-path="url(#clipA3)">
<path d="M546.5 63.26V105.2M544.7 63.26H548.3M544.7 105.2H548.3" stroke="#2424d6" stroke-width="1" stroke-opacity="0.82" fill="none"/>
<path d="M553.5 47.45V88.7M551.7 47.45H555.3M551.7 88.7H555.3" stroke="#2424d6" stroke-width="1" stroke-opacity="0.82" fill="none"/>
<path d="M559.5 73.3V115.1M557.7 73.3H561.3M557.7 115.1H561.3" stroke="#2424d6" stroke-width="1" stroke-opacity="0.82" fill="none"/>
<path d="M565.5 79.76V118.26M563.7 79.76H567.3M563.7 118.26H567.3" stroke="#2424d6" stroke-width="1" stroke-opacity="0.82" fill="none"/>
<path d="M571.5 83.75V121.7M569.7 83.75H573.3M569.7 121.7H573.3" stroke="#2424d6" stroke-width="1" stroke-opacity="0.82" fill="none"/>
<path d="M577.5 72.06V121.7M575.7 72.06H579.3M575.7 121.7H579.3" stroke="#2424d6" stroke-width="1" stroke-opacity="0.82" fill="none"/>
<path d="M583.5 64.36V121.7M581.7 64.36H585.3M581.7 121.7H585.3" stroke="#2424d6" stroke-width="1" stroke-opacity="0.82" fill="none"/>
<path d="M595.5 63.26V121.7M593.7 63.26H597.3M593.7 121.7H597.3" stroke="#2424d6" stroke-width="1" stroke-opacity="0.82" fill="none"/>
<path d="M601.5 47.45V121.7M599.7 47.45H603.3M599.7 121.7H603.3" stroke="#2424d6" stroke-width="1" stroke-opacity="0.82" fill="none"/>
<path d="M606.5 50.48V121.7M604.7 50.48H608.3M604.7 121.7H608.3" stroke="#2424d6" stroke-width="1" stroke-opacity="0.82" fill="none"/>
<path d="M612.5 50.48V121.7M610.7 50.48H614.3M610.7 121.7H614.3" stroke="#2424d6" stroke-width="1" stroke-opacity="0.82" fill="none"/>
<path d="M617.5 51.58V121.7M615.7 51.58H619.3M615.7 121.7H619.3" stroke="#2424d6" stroke-width="1" stroke-opacity="0.82" fill="none"/>
<path d="M639.5 50.89V121.7M637.7 50.89H641.3M637.7 121.7H641.3" stroke="#2424d6" stroke-width="1" stroke-opacity="0.82" fill="none"/>
<path d="M661.5 58.59V120.19M659.7 58.59H663.3M659.7 120.19H663.3" stroke="#2424d6" stroke-width="1" stroke-opacity="0.82" fill="none"/>
<path d="M683.5 79.76V110.56M681.7 79.76H685.3M681.7 110.56H685.3" stroke="#2424d6" stroke-width="1" stroke-opacity="0.82" fill="none"/>
<path d="M545.85 85.95 L552 68.08 L558.15 94.2 L564.3 99.01 L570.45 105.34 L576.6 99.56 L582.75 96.54 L594.5 94.61 L600 87.05 L605.5 88.15 L611 88.7 L616.5 88.7 L638.5 87.74 L660.5 89.39 L682.5 95.16" stroke="#2424d6" stroke-width="1.1" fill="none"/>
<path d="M545.85 83.17L548.26 87.88L543.44 87.88Z" fill="#2424d6"/>
<path d="M552 65.3L554.41 70.01L549.59 70.01Z" fill="#2424d6"/>
<path d="M558.15 91.42L560.56 96.13L555.74 96.13Z" fill="#2424d6"/>
<path d="M564.3 96.24L566.71 100.94L561.88 100.94Z" fill="#2424d6"/>
<path d="M570.45 102.56L572.87 107.27L568.04 107.27Z" fill="#2424d6"/>
<path d="M576.6 96.79L579.01 101.49L574.19 101.49Z" fill="#2424d6"/>
<path d="M582.75 93.76L585.16 98.47L580.34 98.47Z" fill="#2424d6"/>
<path d="M594.5 91.84L596.91 96.54L592.09 96.54Z" fill="#2424d6"/>
<path d="M600 84.27L602.41 88.98L597.59 88.98Z" fill="#2424d6"/>
<path d="M605.5 85.37L607.91 90.08L603.09 90.08Z" fill="#2424d6"/>
<path d="M611 85.92L613.41 90.63L608.59 90.63Z" fill="#2424d6"/>
<path d="M616.5 85.92L618.91 90.63L614.09 90.63Z" fill="#2424d6"/>
<path d="M638.5 84.96L640.91 89.67L636.09 89.67Z" fill="#2424d6"/>
<path d="M660.5 86.61L662.91 91.32L658.09 91.32Z" fill="#2424d6"/>
<path d="M682.5 92.39L684.91 97.09L680.09 97.09Z" fill="#2424d6"/>
<path d="M545.5 60.65V102.72M543.7 60.65H547.3M543.7 102.72H547.3" stroke="#ff1a1a" stroke-width="1" stroke-opacity="0.82" fill="none"/>
<path d="M552.5 27.24V97.36M550.7 27.24H554.3M550.7 97.36H554.3" stroke="#ff1a1a" stroke-width="1" stroke-opacity="0.82" fill="none"/>
<path d="M558.5 75.36V108.36M556.7 75.36H560.3M556.7 108.36H560.3" stroke="#ff1a1a" stroke-width="1" stroke-opacity="0.82" fill="none"/>
<path d="M564.5 81.83V120.33M562.7 81.83H566.3M562.7 120.33H566.3" stroke="#ff1a1a" stroke-width="1" stroke-opacity="0.82" fill="none"/>
<path d="M570.5 90.62V121.7M568.7 90.62H572.3M568.7 121.7H572.3" stroke="#ff1a1a" stroke-width="1" stroke-opacity="0.82" fill="none"/>
<path d="M576.5 94.75V121.7M574.7 94.75H578.3M574.7 121.7H578.3" stroke="#ff1a1a" stroke-width="1" stroke-opacity="0.82" fill="none"/>
<path d="M582.5 99.01V121.7M580.7 99.01H584.3M580.7 121.7H584.3" stroke="#ff1a1a" stroke-width="1" stroke-opacity="0.82" fill="none"/>
<path d="M594.5 99.01V121.7M592.7 99.01H596.3M592.7 121.7H596.3" stroke="#ff1a1a" stroke-width="1" stroke-opacity="0.82" fill="none"/>
<path d="M600.5 82.1V121.7M598.7 82.1H602.3M598.7 121.7H602.3" stroke="#ff1a1a" stroke-width="1" stroke-opacity="0.82" fill="none"/>
<path d="M605.5 78.53V117.58M603.7 78.53H607.3M603.7 117.58H607.3" stroke="#ff1a1a" stroke-width="1" stroke-opacity="0.82" fill="none"/>
<path d="M611.5 75.64V116.89M609.7 75.64H613.3M609.7 116.89H613.3" stroke="#ff1a1a" stroke-width="1" stroke-opacity="0.82" fill="none"/>
<path d="M616.5 76.46V120.74M614.7 76.46H618.3M614.7 120.74H618.3" stroke="#ff1a1a" stroke-width="1" stroke-opacity="0.82" fill="none"/>
<path d="M638.5 79.35V117.85M636.7 79.35H640.3M636.7 117.85H640.3" stroke="#ff1a1a" stroke-width="1" stroke-opacity="0.82" fill="none"/>
<path d="M660.5 76.33V115.1M658.7 76.33H662.3M658.7 115.1H662.3" stroke="#ff1a1a" stroke-width="1" stroke-opacity="0.82" fill="none"/>
<path d="M682.5 54.33V117.03M680.7 54.33H684.3M680.7 117.03H684.3" stroke="#ff1a1a" stroke-width="1" stroke-opacity="0.82" fill="none"/>
<path d="M545.85 81.69 L552 62.3 L558.15 91.86 L564.3 101.08 L570.45 107.12 L576.6 111.25 L582.75 112.76 L594.5 112.76 L600 104.1 L605.5 98.05 L611 96.26 L616.5 98.6 L638.5 98.6 L660.5 95.71 L682.5 85.68" stroke="#ff1a1a" stroke-width="1.1" fill="none"/>
<rect x="543.78" y="79.62" width="4.14" height="4.14" fill="#ff1a1a"/>
<rect x="549.93" y="60.23" width="4.14" height="4.14" fill="#ff1a1a"/>
<rect x="556.08" y="89.79" width="4.14" height="4.14" fill="#ff1a1a"/>
<rect x="562.23" y="99.01" width="4.14" height="4.14" fill="#ff1a1a"/>
<rect x="568.38" y="105.06" width="4.14" height="4.14" fill="#ff1a1a"/>
<rect x="574.53" y="109.18" width="4.14" height="4.14" fill="#ff1a1a"/>
<rect x="580.68" y="110.69" width="4.14" height="4.14" fill="#ff1a1a"/>
<rect x="592.43" y="110.69" width="4.14" height="4.14" fill="#ff1a1a"/>
<rect x="597.93" y="102.03" width="4.14" height="4.14" fill="#ff1a1a"/>
<rect x="603.43" y="95.98" width="4.14" height="4.14" fill="#ff1a1a"/>
<rect x="608.93" y="94.19" width="4.14" height="4.14" fill="#ff1a1a"/>
<rect x="614.43" y="96.53" width="4.14" height="4.14" fill="#ff1a1a"/>
<rect x="636.43" y="96.53" width="4.14" height="4.14" fill="#ff1a1a"/>
<rect x="658.43" y="93.64" width="4.14" height="4.14" fill="#ff1a1a"/>
<rect x="680.43" y="83.61" width="4.14" height="4.14" fill="#ff1a1a"/>
<path d="M545.5 65.74V110.56M543.7 65.74H547.3M543.7 110.56H547.3" stroke="#1e8a1e" stroke-width="1" stroke-opacity="0.82" fill="none"/>
<path d="M552.5 32.74V98.74M550.7 32.74H554.3M550.7 98.74H554.3" stroke="#1e8a1e" stroke-width="1" stroke-opacity="0.82" fill="none"/>
<path d="M558.5 81V114M556.7 81H560.3M556.7 114H560.3" stroke="#1e8a1e" stroke-width="1" stroke-opacity="0.82" fill="none"/>
<path d="M564.5 84.3V121.7M562.7 84.3H566.3M562.7 121.7H566.3" stroke="#1e8a1e" stroke-width="1" stroke-opacity="0.82" fill="none"/>
<path d="M570.5 84.16V121.7M568.7 84.16H572.3M568.7 121.7H572.3" stroke="#1e8a1e" stroke-width="1" stroke-opacity="0.82" fill="none"/>
<path d="M576.5 97.22V121.7M574.7 97.22H578.3M574.7 121.7H578.3" stroke="#1e8a1e" stroke-width="1" stroke-opacity="0.82" fill="none"/>
<path d="M582.5 103.28V121.7M580.7 103.28H584.3M580.7 121.7H584.3" stroke="#1e8a1e" stroke-width="1" stroke-opacity="0.82" fill="none"/>
<path d="M594.5 108.64V121.7M592.7 108.64H596.3M592.7 121.7H596.3" stroke="#1e8a1e" stroke-width="1" stroke-opacity="0.82" fill="none"/>
<path d="M600.5 92.28V119.78M598.7 92.28H602.3M598.7 119.78H602.3" stroke="#1e8a1e" stroke-width="1" stroke-opacity="0.82" fill="none"/>
<path d="M605.5 95.3V121.7M603.7 95.3H607.3M603.7 121.7H607.3" stroke="#1e8a1e" stroke-width="1" stroke-opacity="0.82" fill="none"/>
<path d="M611.5 94.61V121.7M609.7 94.61H613.3M609.7 121.7H613.3" stroke="#1e8a1e" stroke-width="1" stroke-opacity="0.82" fill="none"/>
<path d="M616.5 95.99V121.7M614.7 95.99H618.3M614.7 121.7H618.3" stroke="#1e8a1e" stroke-width="1" stroke-opacity="0.82" fill="none"/>
<path d="M638.5 95.3V121.7M636.7 95.3H640.3M636.7 121.7H640.3" stroke="#1e8a1e" stroke-width="1" stroke-opacity="0.82" fill="none"/>
<path d="M660.5 91.18V121.7M658.7 91.18H662.3M658.7 121.7H662.3" stroke="#1e8a1e" stroke-width="1" stroke-opacity="0.82" fill="none"/>
<path d="M682.5 74.26V116.06M680.7 74.26H684.3M680.7 116.06H684.3" stroke="#1e8a1e" stroke-width="1" stroke-opacity="0.82" fill="none"/>
<path d="M545.85 88.15 L552 65.74 L558.15 97.5 L564.3 103.55 L570.45 107.54 L576.6 110.98 L582.75 114.28 L594.5 116.89 L600 106.03 L605.5 109.05 L611 108.36 L616.5 109.74 L638.5 109.05 L660.5 107.68 L682.5 95.16" stroke="#1e8a1e" stroke-width="1.1" fill="none"/>
<circle cx="545.85" cy="88.15" r="2.18" fill="#1e8a1e"/>
<circle cx="552" cy="65.74" r="2.18" fill="#1e8a1e"/>
<circle cx="558.15" cy="97.5" r="2.18" fill="#1e8a1e"/>
<circle cx="564.3" cy="103.55" r="2.18" fill="#1e8a1e"/>
<circle cx="570.45" cy="107.54" r="2.18" fill="#1e8a1e"/>
<circle cx="576.6" cy="110.98" r="2.18" fill="#1e8a1e"/>
<circle cx="582.75" cy="114.28" r="2.18" fill="#1e8a1e"/>
<circle cx="594.5" cy="116.89" r="2.18" fill="#1e8a1e"/>
<circle cx="600" cy="106.03" r="2.18" fill="#1e8a1e"/>
<circle cx="605.5" cy="109.05" r="2.18" fill="#1e8a1e"/>
<circle cx="611" cy="108.36" r="2.18" fill="#1e8a1e"/>
<circle cx="616.5" cy="109.74" r="2.18" fill="#1e8a1e"/>
<circle cx="638.5" cy="109.05" r="2.18" fill="#1e8a1e"/>
<circle cx="660.5" cy="107.68" r="2.18" fill="#1e8a1e"/>
<circle cx="682.5" cy="95.16" r="2.18" fill="#1e8a1e"/>
</g>
<path d="M539.3 11.7V121.7" stroke="#111" stroke-width="1.7" fill="none"/>
<path d="M538.25 121.7H592M593.6 121.7H683" stroke="#111" stroke-width="1.7" fill="none"/>
<path d="M591.8 119.9V122.5M593.8 119.9V122.5" stroke="#222" stroke-width="0.9" fill="none"/>
<text x="536.7" y="124.2" font-size="7.2" text-anchor="end" font-family="Liberation Sans, sans-serif" font-weight="bold" fill="#111">0</text>
<text x="536.7" y="96.7" font-size="7.2" text-anchor="end" font-family="Liberation Sans, sans-serif" font-weight="bold" fill="#111">20</text>
<text x="536.7" y="69.2" font-size="7.2" text-anchor="end" font-family="Liberation Sans, sans-serif" font-weight="bold" fill="#111">40</text>
<text x="536.7" y="41.7" font-size="7.2" text-anchor="end" font-family="Liberation Sans, sans-serif" font-weight="bold" fill="#111">60</text>
<text x="536.7" y="14.2" font-size="7.2" text-anchor="end" font-family="Liberation Sans, sans-serif" font-weight="bold" fill="#111">80</text>
<text x="552" y="132" font-size="8.1" text-anchor="middle" font-family="Liberation Sans, sans-serif" font-weight="bold" stroke="#111" stroke-width="0.2" fill="#111">0</text>
<text x="576.6" y="132" font-size="8.1" text-anchor="middle" font-family="Liberation Sans, sans-serif" font-weight="bold" stroke="#111" stroke-width="0.2" fill="#111">1</text>
<text x="594.5" y="132" font-size="8.1" text-anchor="middle" font-family="Liberation Sans, sans-serif" font-weight="bold" stroke="#111" stroke-width="0.2" fill="#111">0</text>
<text x="616.5" y="132" font-size="8.1" text-anchor="middle" font-family="Liberation Sans, sans-serif" font-weight="bold" stroke="#111" stroke-width="0.2" fill="#111">1</text>
<text x="638.5" y="132" font-size="8.1" text-anchor="middle" font-family="Liberation Sans, sans-serif" font-weight="bold" stroke="#111" stroke-width="0.2" fill="#111">2</text>
<text x="660.5" y="132" font-size="8.1" text-anchor="middle" font-family="Liberation Sans, sans-serif" font-weight="bold" stroke="#111" stroke-width="0.2" fill="#111">3</text>
<text x="682.5" y="132" font-size="8.1" text-anchor="middle" font-family="Liberation Sans, sans-serif" font-weight="bold" stroke="#111" stroke-width="0.2" fill="#111">4</text>
<path d="M536.5 121.7H539M536.5 94.2H539M536.5 66.7H539M536.5 39.2H539M536.5 11.7H539M537.5 107.95H539M537.5 80.45H539M537.5 52.95H539M537.5 25.45H539M552 121.7V124.7M576.6 121.7V124.7M545.85 121.7V123.2M558.15 121.7V123.2M564.3 121.7V123.2M570.45 121.7V123.2M582.75 121.7V123.2M588.9 121.7V123.2M594.5 121.7V124.7M616.5 121.7V124.7M638.5 121.7V124.7M660.5 121.7V124.7M682.5 121.7V124.7M600 121.7V123.2M605.5 121.7V123.2M611 121.7V123.2M622 121.7V123.2M627.5 121.7V123.2M633 121.7V123.2M644 121.7V123.2M649.5 121.7V123.2M655 121.7V123.2M666 121.7V123.2M671.5 121.7V123.2M677 121.7V123.2" stroke="#111" stroke-width="1.1" fill="none"/>
<rect x="38.3" y="209.7" width="144" height="36.8" fill="#d3d3d3"/>
<clipPath id="clipB0"><rect x="35.3" y="116.1" width="154" height="130.4"/></clipPath>
<g clip-path="url(#clipB0)">
<path d="M51.5 197.27V237.75M49.7 197.27H53.3M49.7 237.75H53.3" stroke="#1e8a1e" stroke-width="1" stroke-opacity="0.82" fill="none"/>
<path d="M69.5 192.4V231.04M67.7 192.4H71.3M67.7 231.04H71.3" stroke="#1e8a1e" stroke-width="1" stroke-opacity="0.82" fill="none"/>
<path d="M93.5 188.16V222.39M91.7 188.16H95.3M91.7 222.39H95.3" stroke="#1e8a1e" stroke-width="1" stroke-opacity="0.82" fill="none"/>
<path d="M115.5 193.68V221.28M113.7 193.68H117.3M113.7 221.28H117.3" stroke="#1e8a1e" stroke-width="1" stroke-opacity="0.82" fill="none"/>
<path d="M137.5 197V226.07M135.7 197H139.3M135.7 226.07H139.3" stroke="#1e8a1e" stroke-width="1" stroke-opacity="0.82" fill="none"/>
<path d="M159.5 199.2V223.86M157.7 199.2H161.3M157.7 223.86H161.3" stroke="#1e8a1e" stroke-width="1" stroke-opacity="0.82" fill="none"/>
<path d="M181.5 198.19V229.47M179.7 198.19H183.3M179.7 229.47H183.3" stroke="#1e8a1e" stroke-width="1" stroke-opacity="0.82" fill="none"/>
<path d="M51.3 217.51 L69.75 211.72 L93.8 205.28 L115.8 207.48 L137.8 211.53 L159.8 211.53 L181.8 213.83" stroke="#1e8a1e" stroke-width="1.1" fill="none"/>
<circle cx="51.3" cy="217.51" r="1.8" fill="#1e8a1e"/>
<circle cx="69.75" cy="211.72" r="1.8" fill="#1e8a1e"/>
<circle cx="93.8" cy="205.28" r="1.8" fill="#1e8a1e"/>
<circle cx="115.8" cy="207.48" r="1.8" fill="#1e8a1e"/>
<circle cx="137.8" cy="211.53" r="1.8" fill="#1e8a1e"/>
<circle cx="159.8" cy="211.53" r="1.8" fill="#1e8a1e"/>
<circle cx="181.8" cy="213.83" r="1.8" fill="#1e8a1e"/>
<path d="M51.5 215.4V226.44M49.7 215.4H53.3M49.7 226.44H53.3" stroke="#ff1a1a" stroke-width="1" stroke-opacity="0.82" fill="none"/>
<path d="M69.5 183.47V228.18M67.7 183.47H71.3M67.7 228.18H71.3" stroke="#ff1a1a" stroke-width="1" stroke-opacity="0.82" fill="none"/>
<path d="M93.5 184.3V217.42M91.7 184.3H95.3M91.7 217.42H95.3" stroke="#ff1a1a" stroke-width="1" stroke-opacity="0.82" fill="none"/>
<path d="M115.5 194.97V224.41M113.7 194.97H117.3M113.7 224.41H117.3" stroke="#ff1a1a" stroke-width="1" stroke-opacity="0.82" fill="none"/>
<path d="M137.5 207.02V227.26M135.7 207.02H139.3M135.7 227.26H139.3" stroke="#ff1a1a" stroke-width="1" stroke-opacity="0.82" fill="none"/>
<path d="M159.5 217.14V228.18M157.7 217.14H161.3M157.7 228.18H161.3" stroke="#ff1a1a" stroke-width="1" stroke-opacity="0.82" fill="none"/>
<path d="M181.5 206.84V225.24M179.7 206.84H183.3M179.7 225.24H183.3" stroke="#ff1a1a" stroke-width="1" stroke-opacity="0.82" fill="none"/>
<path d="M51.3 220.92 L69.75 205.83 L93.8 200.86 L115.8 209.69 L137.8 217.14 L159.8 222.66 L181.8 216.04" stroke="#ff1a1a" stroke-width="1.1" fill="none"/>
<rect x="49.59" y="219.21" width="3.42" height="3.42" fill="#ff1a1a"/>
<rect x="68.04" y="204.12" width="3.42" height="3.42" fill="#ff1a1a"/>
<rect x="92.09" y="199.15" width="3.42" height="3.42" fill="#ff1a1a"/>
<rect x="114.09" y="207.98" width="3.42" height="3.42" fill="#ff1a1a"/>
<rect x="136.09" y="215.43" width="3.42" height="3.42" fill="#ff1a1a"/>
<rect x="158.09" y="220.95" width="3.42" height="3.42" fill="#ff1a1a"/>
<rect x="180.09" y="214.33" width="3.42" height="3.42" fill="#ff1a1a"/>
<path d="M52.5 202.52V226.44M50.7 202.52H54.3M50.7 226.44H54.3" stroke="#2424d6" stroke-width="1" stroke-opacity="0.82" fill="none"/>
<path d="M70.5 197.36V218.52M68.7 197.36H72.3M68.7 218.52H72.3" stroke="#2424d6" stroke-width="1" stroke-opacity="0.82" fill="none"/>
<path d="M94.5 179.15V214.11M92.7 179.15H96.3M92.7 214.11H96.3" stroke="#2424d6" stroke-width="1" stroke-opacity="0.82" fill="none"/>
<path d="M116.5 177.49V220.92M114.7 177.49H118.3M114.7 220.92H118.3" stroke="#2424d6" stroke-width="1" stroke-opacity="0.82" fill="none"/>
<path d="M138.5 186.78V216.22M136.7 186.78H140.3M136.7 216.22H140.3" stroke="#2424d6" stroke-width="1" stroke-opacity="0.82" fill="none"/>
<path d="M160.5 187.98V220.73M158.7 187.98H162.3M158.7 220.73H162.3" stroke="#2424d6" stroke-width="1" stroke-opacity="0.82" fill="none"/>
<path d="M182.5 185.13V216.96M180.7 185.13H184.3M180.7 216.96H184.3" stroke="#2424d6" stroke-width="1" stroke-opacity="0.82" fill="none"/>
<path d="M51.3 214.48 L69.75 207.94 L93.8 196.63 L115.8 199.2 L137.8 201.5 L159.8 204.36 L181.8 201.04" stroke="#2424d6" stroke-width="1.1" fill="none"/>
<path d="M51.3 212.18L53.29 216.07L49.3 216.07Z" fill="#2424d6"/>
<path d="M69.75 205.65L71.75 209.54L67.75 209.54Z" fill="#2424d6"/>
<path d="M93.8 194.33L95.8 198.22L91.8 198.22Z" fill="#2424d6"/>
<path d="M115.8 196.91L117.8 200.8L113.8 200.8Z" fill="#2424d6"/>
<path d="M137.8 199.21L139.8 203.1L135.81 203.1Z" fill="#2424d6"/>
<path d="M159.8 202.06L161.8 205.95L157.81 205.95Z" fill="#2424d6"/>
<path d="M181.8 198.75L183.8 202.64L179.81 202.64Z" fill="#2424d6"/>
</g>
<path d="M38.6 136.1V246.5" stroke="#111" stroke-width="1.7" fill="none"/>
<path d="M37.55 246.5H91.3M92.9 246.5H182.3" stroke="#111" stroke-width="1.7" fill="none"/>
<path d="M91.1 244.7V247.3M93.1 244.7V247.3" stroke="#222" stroke-width="0.9" fill="none"/>
<text x="36" y="249" font-size="7.2" text-anchor="end" font-family="Liberation Sans, sans-serif" font-weight="bold" fill="#111">0</text>
<text x="36" y="203" font-size="7.2" text-anchor="end" font-family="Liberation Sans, sans-serif" font-weight="bold" fill="#111">5</text>
<text x="36" y="157" font-size="7.2" text-anchor="end" font-family="Liberation Sans, sans-serif" font-weight="bold" fill="#111">10</text>
<text x="51.3" y="255.8" font-size="8.1" text-anchor="middle" font-family="Liberation Sans, sans-serif" font-weight="bold" stroke="#111" stroke-width="0.2" fill="#111">0</text>
<text x="75.9" y="255.8" font-size="8.1" text-anchor="middle" font-family="Liberation Sans, sans-serif" font-weight="bold" stroke="#111" stroke-width="0.2" fill="#111">1</text>
<text x="93.8" y="255.8" font-size="8.1" text-anchor="middle" font-family="Liberation Sans, sans-serif" font-weight="bold" stroke="#111" stroke-width="0.2" fill="#111">0</text>
<text x="115.8" y="255.8" font-size="8.1" text-anchor="middle" font-family="Liberation Sans, sans-serif" font-weight="bold" stroke="#111" stroke-width="0.2" fill="#111">1</text>
<text x="137.8" y="255.8" font-size="8.1" text-anchor="middle" font-family="Liberation Sans, sans-serif" font-weight="bold" stroke="#111" stroke-width="0.2" fill="#111">2</text>
<text x="159.8" y="255.8" font-size="8.1" text-anchor="middle" font-family="Liberation Sans, sans-serif" font-weight="bold" stroke="#111" stroke-width="0.2" fill="#111">3</text>
<text x="181.8" y="255.8" font-size="8.1" text-anchor="middle" font-family="Liberation Sans, sans-serif" font-weight="bold" stroke="#111" stroke-width="0.2" fill="#111">4</text>
<path d="M35.8 246.5H38.3M35.8 200.5H38.3M35.8 154.5H38.3M36.8 237.3H38.3M36.8 228.1H38.3M36.8 218.9H38.3M36.8 209.7H38.3M36.8 191.3H38.3M36.8 182.1H38.3M36.8 172.9H38.3M36.8 163.7H38.3M36.8 145.3H38.3M36.8 136.1H38.3M51.3 246.5V249.5M75.9 246.5V249.5M45.15 246.5V248M57.45 246.5V248M63.6 246.5V248M69.75 246.5V248M82.05 246.5V248M88.2 246.5V248M93.8 246.5V249.5M115.8 246.5V249.5M137.8 246.5V249.5M159.8 246.5V249.5M181.8 246.5V249.5M99.3 246.5V248M104.8 246.5V248M110.3 246.5V248M121.3 246.5V248M126.8 246.5V248M132.3 246.5V248M143.3 246.5V248M148.8 246.5V248M154.3 246.5V248M165.3 246.5V248M170.8 246.5V248M176.3 246.5V248" stroke="#111" stroke-width="1.1" fill="none"/>
<rect x="205" y="211.12" width="144" height="36.48" fill="#d3d3d3"/>
<clipPath id="clipB1"><rect x="202" y="118.16" width="154" height="129.44"/></clipPath>
<g clip-path="url(#clipB1)">
<path d="M218.5 228.92V242.72M216.7 228.92H220.3M216.7 242.72H220.3" stroke="#1e8a1e" stroke-width="1" stroke-opacity="0.82" fill="none"/>
<path d="M236.5 215.3V235.54M234.7 215.3H238.3M234.7 235.54H238.3" stroke="#1e8a1e" stroke-width="1" stroke-opacity="0.82" fill="none"/>
<path d="M260.5 176.39V219.63M258.7 176.39H262.3M258.7 219.63H262.3" stroke="#1e8a1e" stroke-width="1" stroke-opacity="0.82" fill="none"/>
<path d="M282.5 189.82V235.82M280.7 189.82H284.3M280.7 235.82H284.3" stroke="#1e8a1e" stroke-width="1" stroke-opacity="0.82" fill="none"/>
<path d="M304.5 205.64V238.76M302.7 205.64H306.3M302.7 238.76H306.3" stroke="#1e8a1e" stroke-width="1" stroke-opacity="0.82" fill="none"/>
<path d="M326.5 210.15V239.59M324.7 210.15H328.3M324.7 239.59H328.3" stroke="#1e8a1e" stroke-width="1" stroke-opacity="0.82" fill="none"/>
<path d="M348.5 191.94V245.3M346.7 191.94H350.3M346.7 245.3H350.3" stroke="#1e8a1e" stroke-width="1" stroke-opacity="0.82" fill="none"/>
<path d="M219.5 230.3V241.34M217.7 230.3H221.3M217.7 241.34H221.3" stroke="#2424d6" stroke-width="1" stroke-opacity="0.82" fill="none"/>
<path d="M237.5 202.88V233.06M235.7 202.88H239.3M235.7 233.06H239.3" stroke="#2424d6" stroke-width="1" stroke-opacity="0.82" fill="none"/>
<path d="M261.5 155.69V209.05M259.7 155.69H263.3M259.7 209.05H263.3" stroke="#2424d6" stroke-width="1" stroke-opacity="0.82" fill="none"/>
<path d="M283.5 181.82V218.62M281.7 181.82H285.3M281.7 218.62H285.3" stroke="#2424d6" stroke-width="1" stroke-opacity="0.82" fill="none"/>
<path d="M305.5 201.96V227.72M303.7 201.96H307.3M303.7 227.72H307.3" stroke="#2424d6" stroke-width="1" stroke-opacity="0.82" fill="none"/>
<path d="M327.5 205.37V227.45M325.7 205.37H329.3M325.7 227.45H329.3" stroke="#2424d6" stroke-width="1" stroke-opacity="0.82" fill="none"/>
<path d="M349.5 198.01V234.81M347.7 198.01H351.3M347.7 234.81H351.3" stroke="#2424d6" stroke-width="1" stroke-opacity="0.82" fill="none"/>
<path d="M218.5 232.51V241.71M216.7 232.51H220.3M216.7 241.71H220.3" stroke="#ff1a1a" stroke-width="1" stroke-opacity="0.82" fill="none"/>
<path d="M236.5 205.74V232.97M234.7 205.74H238.3M234.7 232.97H238.3" stroke="#ff1a1a" stroke-width="1" stroke-opacity="0.82" fill="none"/>
<path d="M260.5 180.99V211.16M258.7 180.99H262.3M258.7 211.16H262.3" stroke="#ff1a1a" stroke-width="1" stroke-opacity="0.82" fill="none"/>
<path d="M282.5 200.4V218.8M280.7 200.4H284.3M280.7 218.8H284.3" stroke="#ff1a1a" stroke-width="1" stroke-opacity="0.82" fill="none"/>
<path d="M304.5 211.72V224.6M302.7 211.72H306.3M302.7 224.6H306.3" stroke="#ff1a1a" stroke-width="1" stroke-opacity="0.82" fill="none"/>
<path d="M326.5 210.8V229.2M324.7 210.8H328.3M324.7 229.2H328.3" stroke="#ff1a1a" stroke-width="1" stroke-opacity="0.82" fill="none"/>
<path d="M348.5 206.2V230.12M346.7 206.2H350.3M346.7 230.12H350.3" stroke="#ff1a1a" stroke-width="1" stroke-opacity="0.82" fill="none"/>
<path d="M218 235.82 L236.45 225.42 L260.5 198.01 L282.5 212.82 L304.5 222.2 L326.5 224.87 L348.5 218.62" stroke="#1e8a1e" stroke-width="1.1" fill="none"/>
<circle cx="218" cy="235.82" r="1.9" fill="#1e8a1e"/>
<circle cx="236.45" cy="225.42" r="1.9" fill="#1e8a1e"/>
<circle cx="260.5" cy="198.01" r="1.9" fill="#1e8a1e"/>
<circle cx="282.5" cy="212.82" r="1.9" fill="#1e8a1e"/>
<circle cx="304.5" cy="222.2" r="1.9" fill="#1e8a1e"/>
<circle cx="326.5" cy="224.87" r="1.9" fill="#1e8a1e"/>
<circle cx="348.5" cy="218.62" r="1.9" fill="#1e8a1e"/>
<path d="M218 237.11 L236.45 219.35 L260.5 196.08 L282.5 209.6 L304.5 218.16 L326.5 220 L348.5 218.16" stroke="#ff1a1a" stroke-width="1.1" fill="none"/>
<rect x="216.2" y="235.31" width="3.6" height="3.6" fill="#ff1a1a"/>
<rect x="234.65" y="217.55" width="3.6" height="3.6" fill="#ff1a1a"/>
<rect x="258.7" y="194.28" width="3.6" height="3.6" fill="#ff1a1a"/>
<rect x="280.7" y="207.8" width="3.6" height="3.6" fill="#ff1a1a"/>
<rect x="302.7" y="216.36" width="3.6" height="3.6" fill="#ff1a1a"/>
<rect x="324.7" y="218.2" width="3.6" height="3.6" fill="#ff1a1a"/>
<rect x="346.7" y="216.36" width="3.6" height="3.6" fill="#ff1a1a"/>
<path d="M218 235.82 L236.45 217.97 L260.5 182.37 L282.5 200.22 L304.5 214.84 L326.5 216.41 L348.5 216.41" stroke="#2424d6" stroke-width="1.1" fill="none"/>
<path d="M218 233.41L220.1 237.5L215.9 237.5Z" fill="#2424d6"/>
<path d="M236.45 215.56L238.55 219.65L234.35 219.65Z" fill="#2424d6"/>
<path d="M260.5 179.95L262.6 184.05L258.4 184.05Z" fill="#2424d6"/>
<path d="M282.5 197.8L284.6 201.9L280.4 201.9Z" fill="#2424d6"/>
<path d="M304.5 212.43L306.6 216.52L302.4 216.52Z" fill="#2424d6"/>
<path d="M326.5 213.99L328.6 218.09L324.4 218.09Z" fill="#2424d6"/>
<path d="M348.5 213.99L350.6 218.09L346.4 218.09Z" fill="#2424d6"/>
</g>
<path d="M205.3 138.16V247.6" stroke="#111" stroke-width="1.7" fill="none"/>
<path d="M204.25 247.6H258M259.6 247.6H349" stroke="#111" stroke-width="1.7" fill="none"/>
<path d="M257.8 245.8V248.4M259.8 245.8V248.4" stroke="#222" stroke-width="0.9" fill="none"/>
<text x="202.7" y="250.1" font-size="7.2" text-anchor="end" font-family="Liberation Sans, sans-serif" font-weight="bold" fill="#111">0</text>
<text x="202.7" y="204.5" font-size="7.2" text-anchor="end" font-family="Liberation Sans, sans-serif" font-weight="bold" fill="#111">5</text>
<text x="202.7" y="158.9" font-size="7.2" text-anchor="end" font-family="Liberation Sans, sans-serif" font-weight="bold" fill="#111">10</text>
<text x="218" y="256.9" font-size="8.1" text-anchor="middle" font-family="Liberation Sans, sans-serif" font-weight="bold" stroke="#111" stroke-width="0.2" fill="#111">0</text>
<text x="242.6" y="256.9" font-size="8.1" text-anchor="middle" font-family="Liberation Sans, sans-serif" font-weight="bold" stroke="#111" stroke-width="0.2" fill="#111">1</text>
<text x="260.5" y="256.9" font-size="8.1" text-anchor="middle" font-family="Liberation Sans, sans-serif" font-weight="bold" stroke="#111" stroke-width="0.2" fill="#111">0</text>
<text x="282.5" y="256.9" font-size="8.1" text-anchor="middle" font-family="Liberation Sans, sans-serif" font-weight="bold" stroke="#111" stroke-width="0.2" fill="#111">1</text>
<text x="304.5" y="256.9" font-size="8.1" text-anchor="middle" font-family="Liberation Sans, sans-serif" font-weight="bold" stroke="#111" stroke-width="0.2" fill="#111">2</text>
<text x="326.5" y="256.9" font-size="8.1" text-anchor="middle" font-family="Liberation Sans, sans-serif" font-weight="bold" stroke="#111" stroke-width="0.2" fill="#111">3</text>
<text x="348.5" y="256.9" font-size="8.1" text-anchor="middle" font-family="Liberation Sans, sans-serif" font-weight="bold" stroke="#111" stroke-width="0.2" fill="#111">4</text>
<path d="M202.5 247.6H205M202.5 202H205M202.5 156.4H205M203.5 238.48H205M203.5 229.36H205M203.5 220.24H205M203.5 211.12H205M203.5 192.88H205M203.5 183.76H205M203.5 174.64H205M203.5 165.52H205M203.5 147.28H205M203.5 138.16H205M218 247.6V250.6M242.6 247.6V250.6M211.85 247.6V249.1M224.15 247.6V249.1M230.3 247.6V249.1M236.45 247.6V249.1M248.75 247.6V249.1M254.9 247.6V249.1M260.5 247.6V250.6M282.5 247.6V250.6M304.5 247.6V250.6M326.5 247.6V250.6M348.5 247.6V250.6M266 247.6V249.1M271.5 247.6V249.1M277 247.6V249.1M288 247.6V249.1M293.5 247.6V249.1M299 247.6V249.1M310 247.6V249.1M315.5 247.6V249.1M321 247.6V249.1M332 247.6V249.1M337.5 247.6V249.1M343 247.6V249.1" stroke="#111" stroke-width="1.1" fill="none"/>
<rect x="372.3" y="211.12" width="144" height="36.48" fill="#d3d3d3"/>
<clipPath id="clipB2"><rect x="369.3" y="118.16" width="154" height="129.44"/></clipPath>
<g clip-path="url(#clipB2)">
<path d="M385.5 222.02V233.06M383.7 222.02H387.3M383.7 233.06H387.3" stroke="#1e8a1e" stroke-width="1" stroke-opacity="0.82" fill="none"/>
<path d="M403.5 208.22V232.14M401.7 208.22H405.3M401.7 232.14H405.3" stroke="#1e8a1e" stroke-width="1" stroke-opacity="0.82" fill="none"/>
<path d="M427.5 187.89V208.13M425.7 187.89H429.3M425.7 208.13H429.3" stroke="#1e8a1e" stroke-width="1" stroke-opacity="0.82" fill="none"/>
<path d="M449.5 176.76V208.04M447.7 176.76H451.3M447.7 208.04H451.3" stroke="#1e8a1e" stroke-width="1" stroke-opacity="0.82" fill="none"/>
<path d="M471.5 189.36V222.48M469.7 189.36H473.3M469.7 222.48H473.3" stroke="#1e8a1e" stroke-width="1" stroke-opacity="0.82" fill="none"/>
<path d="M493.5 196.81V226.25M491.7 196.81H495.3M491.7 226.25H495.3" stroke="#1e8a1e" stroke-width="1" stroke-opacity="0.82" fill="none"/>
<path d="M515.5 184.3V239.5M513.7 184.3H517.3M513.7 239.5H517.3" stroke="#1e8a1e" stroke-width="1" stroke-opacity="0.82" fill="none"/>
<path d="M385.3 227.54 L403.75 220.18 L427.8 198.01 L449.8 192.4 L471.8 205.92 L493.8 211.53 L515.8 211.9" stroke="#1e8a1e" stroke-width="1.1" fill="none"/>
<circle cx="385.3" cy="227.54" r="1.9" fill="#1e8a1e"/>
<circle cx="403.75" cy="220.18" r="1.9" fill="#1e8a1e"/>
<circle cx="427.8" cy="198.01" r="1.9" fill="#1e8a1e"/>
<circle cx="449.8" cy="192.4" r="1.9" fill="#1e8a1e"/>
<circle cx="471.8" cy="205.92" r="1.9" fill="#1e8a1e"/>
<circle cx="493.8" cy="211.53" r="1.9" fill="#1e8a1e"/>
<circle cx="515.8" cy="211.9" r="1.9" fill="#1e8a1e"/>
<path d="M385.5 209.23V230.58M383.7 209.23H387.3M383.7 230.58H387.3" stroke="#ff1a1a" stroke-width="1" stroke-opacity="0.82" fill="none"/>
<path d="M403.5 187.06V228.83M401.7 187.06H405.3M401.7 228.83H405.3" stroke="#ff1a1a" stroke-width="1" stroke-opacity="0.82" fill="none"/>
<path d="M427.5 156.61V219.17M425.7 156.61H429.3M425.7 219.17H429.3" stroke="#ff1a1a" stroke-width="1" stroke-opacity="0.82" fill="none"/>
<path d="M449.5 173.17V189.73M447.7 173.17H451.3M447.7 189.73H451.3" stroke="#ff1a1a" stroke-width="1" stroke-opacity="0.82" fill="none"/>
<path d="M471.5 187.24V206.56M469.7 187.24H473.3M469.7 206.56H473.3" stroke="#ff1a1a" stroke-width="1" stroke-opacity="0.82" fill="none"/>
<path d="M493.5 180.07V212.27M491.7 180.07H495.3M491.7 212.27H495.3" stroke="#ff1a1a" stroke-width="1" stroke-opacity="0.82" fill="none"/>
<path d="M515.5 183.01V219.81M513.7 183.01H517.3M513.7 219.81H517.3" stroke="#ff1a1a" stroke-width="1" stroke-opacity="0.82" fill="none"/>
<path d="M385.3 219.9 L403.75 207.94 L427.8 187.89 L449.8 181.45 L471.8 196.9 L493.8 196.17 L515.8 201.41" stroke="#ff1a1a" stroke-width="1.1" fill="none"/>
<rect x="383.5" y="218.1" width="3.6" height="3.6" fill="#ff1a1a"/>
<rect x="401.95" y="206.14" width="3.6" height="3.6" fill="#ff1a1a"/>
<rect x="426" y="186.09" width="3.6" height="3.6" fill="#ff1a1a"/>
<rect x="448" y="179.65" width="3.6" height="3.6" fill="#ff1a1a"/>
<rect x="470" y="195.1" width="3.6" height="3.6" fill="#ff1a1a"/>
<rect x="492" y="194.37" width="3.6" height="3.6" fill="#ff1a1a"/>
<rect x="514" y="199.61" width="3.6" height="3.6" fill="#ff1a1a"/>
<path d="M386.5 219.63V234.35M384.7 219.63H388.3M384.7 234.35H388.3" stroke="#2424d6" stroke-width="1" stroke-opacity="0.82" fill="none"/>
<path d="M404.5 202.88V222.2M402.7 202.88H406.3M402.7 222.2H406.3" stroke="#2424d6" stroke-width="1" stroke-opacity="0.82" fill="none"/>
<path d="M428.5 161.21V200.77M426.7 161.21H430.3M426.7 200.77H430.3" stroke="#2424d6" stroke-width="1" stroke-opacity="0.82" fill="none"/>
<path d="M450.5 176.57V204.17M448.7 176.57H452.3M448.7 204.17H452.3" stroke="#2424d6" stroke-width="1" stroke-opacity="0.82" fill="none"/>
<path d="M472.5 184.58V216.78M470.7 184.58H474.3M470.7 216.78H474.3" stroke="#2424d6" stroke-width="1" stroke-opacity="0.82" fill="none"/>
<path d="M494.5 185.77V217.05M492.7 185.77H496.3M492.7 217.05H496.3" stroke="#2424d6" stroke-width="1" stroke-opacity="0.82" fill="none"/>
<path d="M516.5 178.6V226.44M514.7 178.6H518.3M514.7 226.44H518.3" stroke="#2424d6" stroke-width="1" stroke-opacity="0.82" fill="none"/>
<path d="M385.3 226.99 L403.75 212.54 L427.8 180.99 L449.8 190.37 L471.8 200.68 L493.8 201.41 L515.8 202.52" stroke="#2424d6" stroke-width="1.1" fill="none"/>
<path d="M385.3 224.57L387.4 228.67L383.2 228.67Z" fill="#2424d6"/>
<path d="M403.75 210.13L405.85 214.22L401.65 214.22Z" fill="#2424d6"/>
<path d="M427.8 178.57L429.9 182.67L425.7 182.67Z" fill="#2424d6"/>
<path d="M449.8 187.96L451.9 192.05L447.7 192.05Z" fill="#2424d6"/>
<path d="M471.8 198.26L473.9 202.36L469.7 202.36Z" fill="#2424d6"/>
<path d="M493.8 199L495.9 203.09L491.7 203.09Z" fill="#2424d6"/>
<path d="M515.8 200.1L517.9 204.2L513.7 204.2Z" fill="#2424d6"/>
</g>
<path d="M372.6 138.16V247.6" stroke="#111" stroke-width="1.7" fill="none"/>
<path d="M371.55 247.6H425.3M426.9 247.6H516.3" stroke="#111" stroke-width="1.7" fill="none"/>
<path d="M425.1 245.8V248.4M427.1 245.8V248.4" stroke="#222" stroke-width="0.9" fill="none"/>
<text x="370" y="250.1" font-size="7.2" text-anchor="end" font-family="Liberation Sans, sans-serif" font-weight="bold" fill="#111">0</text>
<text x="370" y="204.5" font-size="7.2" text-anchor="end" font-family="Liberation Sans, sans-serif" font-weight="bold" fill="#111">5</text>
<text x="370" y="158.9" font-size="7.2" text-anchor="end" font-family="Liberation Sans, sans-serif" font-weight="bold" fill="#111">10</text>
<text x="385.3" y="256.9" font-size="8.1" text-anchor="middle" font-family="Liberation Sans, sans-serif" font-weight="bold" stroke="#111" stroke-width="0.2" fill="#111">0</text>
<text x="409.9" y="256.9" font-size="8.1" text-anchor="middle" font-family="Liberation Sans, sans-serif" font-weight="bold" stroke="#111" stroke-width="0.2" fill="#111">1</text>
<text x="427.8" y="256.9" font-size="8.1" text-anchor="middle" font-family="Liberation Sans, sans-serif" font-weight="bold" stroke="#111" stroke-width="0.2" fill="#111">0</text>
<text x="449.8" y="256.9" font-size="8.1" text-anchor="middle" font-family="Liberation Sans, sans-serif" font-weight="bold" stroke="#111" stroke-width="0.2" fill="#111">1</text>
<text x="471.8" y="256.9" font-size="8.1" text-anchor="middle" font-family="Liberation Sans, sans-serif" font-weight="bold" stroke="#111" stroke-width="0.2" fill="#111">2</text>
<text x="493.8" y="256.9" font-size="8.1" text-anchor="middle" font-family="Liberation Sans, sans-serif" font-weight="bold" stroke="#111" stroke-width="0.2" fill="#111">3</text>
<text x="515.8" y="256.9" font-size="8.1" text-anchor="middle" font-family="Liberation Sans, sans-serif" font-weight="bold" stroke="#111" stroke-width="0.2" fill="#111">4</text>
<path d="M369.8 247.6H372.3M369.8 202H372.3M369.8 156.4H372.3M370.8 238.48H372.3M370.8 229.36H372.3M370.8 220.24H372.3M370.8 211.12H372.3M370.8 192.88H372.3M370.8 183.76H372.3M370.8 174.64H372.3M370.8 165.52H372.3M370.8 147.28H372.3M370.8 138.16H372.3M385.3 247.6V250.6M409.9 247.6V250.6M379.15 247.6V249.1M391.45 247.6V249.1M397.6 247.6V249.1M403.75 247.6V249.1M416.05 247.6V249.1M422.2 247.6V249.1M427.8 247.6V250.6M449.8 247.6V250.6M471.8 247.6V250.6M493.8 247.6V250.6M515.8 247.6V250.6M433.3 247.6V249.1M438.8 247.6V249.1M444.3 247.6V249.1M455.3 247.6V249.1M460.8 247.6V249.1M466.3 247.6V249.1M477.3 247.6V249.1M482.8 247.6V249.1M488.3 247.6V249.1M499.3 247.6V249.1M504.8 247.6V249.1M510.3 247.6V249.1" stroke="#111" stroke-width="1.1" fill="none"/>
<rect x="539" y="210.6" width="144" height="36.6" fill="#d3d3d3"/>
<clipPath id="clipB3"><rect x="536" y="117.4" width="154" height="129.8"/></clipPath>
<g clip-path="url(#clipB3)">
<path d="M552.5 212.54V227.26M550.7 212.54H554.3M550.7 227.26H554.3" stroke="#1e8a1e" stroke-width="1" stroke-opacity="0.82" fill="none"/>
<path d="M570.5 199.66V218.06M568.7 199.66H572.3M568.7 218.06H572.3" stroke="#1e8a1e" stroke-width="1" stroke-opacity="0.82" fill="none"/>
<path d="M594.5 172.16V208.96M592.7 172.16H596.3M592.7 208.96H596.3" stroke="#1e8a1e" stroke-width="1" stroke-opacity="0.82" fill="none"/>
<path d="M616.5 171.42V206.38M614.7 171.42H618.3M614.7 206.38H618.3" stroke="#1e8a1e" stroke-width="1" stroke-opacity="0.82" fill="none"/>
<path d="M638.5 175.56V208.68M636.7 175.56H640.3M636.7 208.68H640.3" stroke="#1e8a1e" stroke-width="1" stroke-opacity="0.82" fill="none"/>
<path d="M660.5 178.04V224.04M658.7 178.04H662.3M658.7 224.04H662.3" stroke="#1e8a1e" stroke-width="1" stroke-opacity="0.82" fill="none"/>
<path d="M682.5 172.16V231.04M680.7 172.16H684.3M680.7 231.04H684.3" stroke="#1e8a1e" stroke-width="1" stroke-opacity="0.82" fill="none"/>
<path d="M552 219.9 L570.45 208.86 L594.5 190.56 L616.5 188.9 L638.5 192.12 L660.5 201.04 L682.5 201.6" stroke="#1e8a1e" stroke-width="1.1" fill="none"/>
<circle cx="552" cy="219.9" r="1.9" fill="#1e8a1e"/>
<circle cx="570.45" cy="208.86" r="1.9" fill="#1e8a1e"/>
<circle cx="594.5" cy="190.56" r="1.9" fill="#1e8a1e"/>
<circle cx="616.5" cy="188.9" r="1.9" fill="#1e8a1e"/>
<circle cx="638.5" cy="192.12" r="1.9" fill="#1e8a1e"/>
<circle cx="660.5" cy="201.04" r="1.9" fill="#1e8a1e"/>
<circle cx="682.5" cy="201.6" r="1.9" fill="#1e8a1e"/>
<path d="M553.5 220.55V233.43M551.7 220.55H555.3M551.7 233.43H555.3" stroke="#2424d6" stroke-width="1" stroke-opacity="0.82" fill="none"/>
<path d="M571.5 203.16V223.4M569.7 203.16H573.3M569.7 223.4H573.3" stroke="#2424d6" stroke-width="1" stroke-opacity="0.82" fill="none"/>
<path d="M595.5 186.42V216.78M593.7 186.42H597.3M593.7 216.78H597.3" stroke="#2424d6" stroke-width="1" stroke-opacity="0.82" fill="none"/>
<path d="M617.5 178.78V206.38M615.7 178.78H619.3M615.7 206.38H619.3" stroke="#2424d6" stroke-width="1" stroke-opacity="0.82" fill="none"/>
<path d="M639.5 141.34V220.09M637.7 141.34H641.3M637.7 220.09H641.3" stroke="#2424d6" stroke-width="1" stroke-opacity="0.82" fill="none"/>
<path d="M661.5 137.4V230.02M659.7 230.02H663.3" stroke="#2424d6" stroke-width="1" stroke-opacity="0.82" fill="none"/>
<path d="M683.5 137.4V240.05M681.7 240.05H685.3" stroke="#2424d6" stroke-width="1" stroke-opacity="0.82" fill="none"/>
<path d="M552 226.99 L570.45 213.28 L594.5 201.6 L616.5 192.58 L638.5 180.71 L660.5 181.26 L682.5 186.69" stroke="#2424d6" stroke-width="1.1" fill="none"/>
<path d="M552 224.57L554.1 228.67L549.9 228.67Z" fill="#2424d6"/>
<path d="M570.45 210.87L572.55 214.96L568.35 214.96Z" fill="#2424d6"/>
<path d="M594.5 199.18L596.6 203.28L592.4 203.28Z" fill="#2424d6"/>
<path d="M616.5 190.17L618.6 194.26L614.4 194.26Z" fill="#2424d6"/>
<path d="M638.5 178.3L640.6 182.39L636.4 182.39Z" fill="#2424d6"/>
<path d="M660.5 178.85L662.6 182.94L658.4 182.94Z" fill="#2424d6"/>
<path d="M682.5 184.28L684.6 188.37L680.4 188.37Z" fill="#2424d6"/>
<path d="M552.5 208.31V223.95M550.7 208.31H554.3M550.7 223.95H554.3" stroke="#ff1a1a" stroke-width="1" stroke-opacity="0.82" fill="none"/>
<path d="M570.5 195.43V214.75M568.7 195.43H572.3M568.7 214.75H572.3" stroke="#ff1a1a" stroke-width="1" stroke-opacity="0.82" fill="none"/>
<path d="M594.5 177.77V206.29M592.7 177.77H596.3M592.7 206.29H596.3" stroke="#ff1a1a" stroke-width="1" stroke-opacity="0.82" fill="none"/>
<path d="M616.5 175.1V191.66M614.7 175.1H618.3M614.7 191.66H618.3" stroke="#ff1a1a" stroke-width="1" stroke-opacity="0.82" fill="none"/>
<path d="M638.5 176.3V210.34M636.7 176.3H640.3M636.7 210.34H640.3" stroke="#ff1a1a" stroke-width="1" stroke-opacity="0.82" fill="none"/>
<path d="M660.5 171.14V218.98M658.7 171.14H662.3M658.7 218.98H662.3" stroke="#ff1a1a" stroke-width="1" stroke-opacity="0.82" fill="none"/>
<path d="M682.5 180.9V217.7M680.7 180.9H684.3M680.7 217.7H684.3" stroke="#ff1a1a" stroke-width="1" stroke-opacity="0.82" fill="none"/>
<path d="M552 216.13 L570.45 205.09 L594.5 192.03 L616.5 183.38 L638.5 193.32 L660.5 195.06 L682.5 199.3" stroke="#ff1a1a" stroke-width="1.1" fill="none"/>
<rect x="550.2" y="214.33" width="3.6" height="3.6" fill="#ff1a1a"/>
<rect x="568.65" y="203.29" width="3.6" height="3.6" fill="#ff1a1a"/>
<rect x="592.7" y="190.23" width="3.6" height="3.6" fill="#ff1a1a"/>
<rect x="614.7" y="181.58" width="3.6" height="3.6" fill="#ff1a1a"/>
<rect x="636.7" y="191.52" width="3.6" height="3.6" fill="#ff1a1a"/>
<rect x="658.7" y="193.26" width="3.6" height="3.6" fill="#ff1a1a"/>
<rect x="680.7" y="197.5" width="3.6" height="3.6" fill="#ff1a1a"/>
</g>
<path d="M539.3 137.4V247.2" stroke="#111" stroke-width="1.7" fill="none"/>
<path d="M538.25 247.2H592M593.6 247.2H683" stroke="#111" stroke-width="1.7" fill="none"/>
<path d="M591.8 245.4V248M593.8 245.4V248" stroke="#222" stroke-width="0.9" fill="none"/>
<text x="536.7" y="249.7" font-size="7.2" text-anchor="end" font-family="Liberation Sans, sans-serif" font-weight="bold" fill="#111">0</text>
<text x="536.7" y="203.95" font-size="7.2" text-anchor="end" font-family="Liberation Sans, sans-serif" font-weight="bold" fill="#111">5</text>
<text x="536.7" y="158.2" font-size="7.2" text-anchor="end" font-family="Liberation Sans, sans-serif" font-weight="bold" fill="#111">10</text>
<text x="552" y="256.5" font-size="8.1" text-anchor="middle" font-family="Liberation Sans, sans-serif" font-weight="bold" stroke="#111" stroke-width="0.2" fill="#111">0</text>
<text x="576.6" y="256.5" font-size="8.1" text-anchor="middle" font-family="Liberation Sans, sans-serif" font-weight="bold" stroke="#111" stroke-width="0.2" fill="#111">1</text>
<text x="594.5" y="256.5" font-size="8.1" text-anchor="middle" font-family="Liberation Sans, sans-serif" font-weight="bold" stroke="#111" stroke-width="0.2" fill="#111">0</text>
<text x="616.5" y="256.5" font-size="8.1" text-anchor="middle" font-family="Liberation Sans, sans-serif" font-weight="bold" stroke="#111" stroke-width="0.2" fill="#111">1</text>
<text x="638.5" y="256.5" font-size="8.1" text-anchor="middle" font-family="Liberation Sans, sans-serif" font-weight="bold" stroke="#111" stroke-width="0.2" fill="#111">2</text>
<text x="660.5" y="256.5" font-size="8.1" text-anchor="middle" font-family="Liberation Sans, sans-serif" font-weight="bold" stroke="#111" stroke-width="0.2" fill="#111">3</text>
<text x="682.5" y="256.5" font-size="8.1" text-anchor="middle" font-family="Liberation Sans, sans-serif" font-weight="bold" stroke="#111" stroke-width="0.2" fill="#111">4</text>
<path d="M536.5 247.2H539M536.5 201.45H539M536.5 155.7H539M537.5 238.05H539M537.5 228.9H539M537.5 219.75H539M537.5 210.6H539M537.5 192.3H539M537.5 183.15H539M537.5 174H539M537.5 164.85H539M537.5 146.55H539M537.5 137.4H539M552 247.2V250.2M576.6 247.2V250.2M545.85 247.2V248.7M558.15 247.2V248.7M564.3 247.2V248.7M570.45 247.2V248.7M582.75 247.2V248.7M588.9 247.2V248.7M594.5 247.2V250.2M616.5 247.2V250.2M638.5 247.2V250.2M660.5 247.2V250.2M682.5 247.2V250.2M600 247.2V248.7M605.5 247.2V248.7M611 247.2V248.7M622 247.2V248.7M627.5 247.2V248.7M633 247.2V248.7M644 247.2V248.7M649.5 247.2V248.7M655 247.2V248.7M666 247.2V248.7M671.5 247.2V248.7M677 247.2V248.7" stroke="#111" stroke-width="1.1" fill="none"/>
<rect x="38.3" y="344.22" width="144" height="27.58" fill="#d3d3d3"/>
<clipPath id="clipC0"><rect x="35.3" y="241.49" width="154" height="130.31"/></clipPath>
<g clip-path="url(#clipC0)">
<path d="M45.5 333.3V344.33M43.7 333.3H47.3M43.7 344.33H47.3" stroke="#1e8a1e" stroke-width="1" stroke-opacity="0.82" fill="none"/>
<path d="M51.5 329.88V343.12M49.7 329.88H53.3M49.7 343.12H53.3" stroke="#1e8a1e" stroke-width="1" stroke-opacity="0.82" fill="none"/>
<path d="M57.5 337.38V357.83M55.7 337.38H59.3M55.7 357.83H59.3" stroke="#1e8a1e" stroke-width="1" stroke-opacity="0.82" fill="none"/>
<path d="M63.5 339.7V358.08M61.7 339.7H65.3M61.7 358.08H65.3" stroke="#1e8a1e" stroke-width="1" stroke-opacity="0.82" fill="none"/>
<path d="M69.5 346.58V359.81M67.7 346.58H71.3M67.7 359.81H71.3" stroke="#1e8a1e" stroke-width="1" stroke-opacity="0.82" fill="none"/>
<path d="M75.5 346.39V357.42M73.7 346.39H77.3M73.7 357.42H77.3" stroke="#1e8a1e" stroke-width="1" stroke-opacity="0.82" fill="none"/>
<path d="M82.5 345.77V356.8M80.7 345.77H84.3M80.7 356.8H84.3" stroke="#1e8a1e" stroke-width="1" stroke-opacity="0.82" fill="none"/>
<path d="M93.5 341.54V356.25M91.7 341.54H95.3M91.7 356.25H95.3" stroke="#1e8a1e" stroke-width="1" stroke-opacity="0.82" fill="none"/>
<path d="M99.5 305.36V352.42M97.7 305.36H101.3M97.7 352.42H101.3" stroke="#1e8a1e" stroke-width="1" stroke-opacity="0.82" fill="none"/>
<path d="M104.5 321.68V351.1M102.7 321.68H106.3M102.7 351.1H106.3" stroke="#1e8a1e" stroke-width="1" stroke-opacity="0.82" fill="none"/>
<path d="M110.5 290.32V363.12M108.7 290.32H112.3M108.7 363.12H112.3" stroke="#1e8a1e" stroke-width="1" stroke-opacity="0.82" fill="none"/>
<path d="M115.5 329.22V347.61M113.7 329.22H117.3M113.7 347.61H117.3" stroke="#1e8a1e" stroke-width="1" stroke-opacity="0.82" fill="none"/>
<path d="M137.5 320.32V359.08M135.7 320.32H139.3M135.7 359.08H139.3" stroke="#1e8a1e" stroke-width="1" stroke-opacity="0.82" fill="none"/>
<path d="M159.5 316.28V352.09M157.7 316.28H161.3M157.7 352.09H161.3" stroke="#1e8a1e" stroke-width="1" stroke-opacity="0.82" fill="none"/>
<path d="M181.5 290.35V350.66M179.7 290.35H183.3M179.7 350.66H183.3" stroke="#1e8a1e" stroke-width="1" stroke-opacity="0.82" fill="none"/>
<path d="M45.15 338.82 L51.3 336.5 L57.45 347.61 L63.6 348.89 L69.75 353.19 L75.9 351.91 L82.05 351.28 L93.8 348.89 L99.3 328.89 L104.8 336.39 L110.3 326.72 L115.8 338.41 L137.8 339.7 L159.8 334.18 L181.8 320.51" stroke="#1e8a1e" stroke-width="1.1" fill="none"/>
<circle cx="45.15" cy="338.82" r="1.99" fill="#1e8a1e"/>
<circle cx="51.3" cy="336.5" r="1.99" fill="#1e8a1e"/>
<circle cx="57.45" cy="347.61" r="1.99" fill="#1e8a1e"/>
<circle cx="63.6" cy="348.89" r="1.99" fill="#1e8a1e"/>
<circle cx="69.75" cy="353.19" r="1.99" fill="#1e8a1e"/>
<circle cx="75.9" cy="351.91" r="1.99" fill="#1e8a1e"/>
<circle cx="82.05" cy="351.28" r="1.99" fill="#1e8a1e"/>
<circle cx="93.8" cy="348.89" r="1.99" fill="#1e8a1e"/>
<circle cx="99.3" cy="328.89" r="1.99" fill="#1e8a1e"/>
<circle cx="104.8" cy="336.39" r="1.99" fill="#1e8a1e"/>
<circle cx="110.3" cy="326.72" r="1.99" fill="#1e8a1e"/>
<circle cx="115.8" cy="338.41" r="1.99" fill="#1e8a1e"/>
<circle cx="137.8" cy="339.7" r="1.99" fill="#1e8a1e"/>
<circle cx="159.8" cy="334.18" r="1.99" fill="#1e8a1e"/>
<circle cx="181.8" cy="320.51" r="1.99" fill="#1e8a1e"/>
<path d="M45.5 326.43V342.6M43.7 326.43H47.3M43.7 342.6H47.3" stroke="#ff1a1a" stroke-width="1" stroke-opacity="0.82" fill="none"/>
<path d="M51.5 327.2V348.52M49.7 327.2H53.3M49.7 348.52H53.3" stroke="#ff1a1a" stroke-width="1" stroke-opacity="0.82" fill="none"/>
<path d="M57.5 320.58V352.57M55.7 320.58H59.3M55.7 352.57H59.3" stroke="#ff1a1a" stroke-width="1" stroke-opacity="0.82" fill="none"/>
<path d="M63.5 324.29V355.92M61.7 324.29H65.3M61.7 355.92H65.3" stroke="#ff1a1a" stroke-width="1" stroke-opacity="0.82" fill="none"/>
<path d="M69.5 339.33V359.56M67.7 339.33H71.3M67.7 359.56H71.3" stroke="#ff1a1a" stroke-width="1" stroke-opacity="0.82" fill="none"/>
<path d="M75.5 341.35V360.84M73.7 341.35H77.3M73.7 360.84H77.3" stroke="#ff1a1a" stroke-width="1" stroke-opacity="0.82" fill="none"/>
<path d="M82.5 344.55V357.79M80.7 344.55H84.3M80.7 357.79H84.3" stroke="#ff1a1a" stroke-width="1" stroke-opacity="0.82" fill="none"/>
<path d="M93.5 343.05V357.02M91.7 343.05H95.3M91.7 357.02H95.3" stroke="#ff1a1a" stroke-width="1" stroke-opacity="0.82" fill="none"/>
<path d="M99.5 329.96V352.02M97.7 329.96H101.3M97.7 352.02H101.3" stroke="#ff1a1a" stroke-width="1" stroke-opacity="0.82" fill="none"/>
<path d="M104.5 326.32V352.05M102.7 326.32H106.3M102.7 352.05H106.3" stroke="#ff1a1a" stroke-width="1" stroke-opacity="0.82" fill="none"/>
<path d="M110.5 319.81V349.22M108.7 319.81H112.3M108.7 349.22H112.3" stroke="#ff1a1a" stroke-width="1" stroke-opacity="0.82" fill="none"/>
<path d="M115.5 321.28V350.69M113.7 321.28H117.3M113.7 350.69H117.3" stroke="#ff1a1a" stroke-width="1" stroke-opacity="0.82" fill="none"/>
<path d="M137.5 302.42V350.58M135.7 302.42H139.3M135.7 350.58H139.3" stroke="#ff1a1a" stroke-width="1" stroke-opacity="0.82" fill="none"/>
<path d="M159.5 312.78V349.19M157.7 312.78H161.3M157.7 349.19H161.3" stroke="#ff1a1a" stroke-width="1" stroke-opacity="0.82" fill="none"/>
<path d="M181.5 299.88V353.56M179.7 299.88H183.3M179.7 353.56H183.3" stroke="#ff1a1a" stroke-width="1" stroke-opacity="0.82" fill="none"/>
<path d="M45.15 334.52 L51.3 336.39 L57.45 336.39 L63.6 340.1 L69.75 348.89 L75.9 351.28 L82.05 351.91 L93.8 350.4 L99.3 340.99 L104.8 339.19 L110.3 334.52 L115.8 335.99 L137.8 326.5 L159.8 330.99 L181.8 326.72" stroke="#ff1a1a" stroke-width="1.1" fill="none"/>
<rect x="43.26" y="332.63" width="3.78" height="3.78" fill="#ff1a1a"/>
<rect x="49.41" y="334.5" width="3.78" height="3.78" fill="#ff1a1a"/>
<rect x="55.56" y="334.5" width="3.78" height="3.78" fill="#ff1a1a"/>
<rect x="61.71" y="338.21" width="3.78" height="3.78" fill="#ff1a1a"/>
<rect x="67.86" y="347" width="3.78" height="3.78" fill="#ff1a1a"/>
<rect x="74.01" y="349.39" width="3.78" height="3.78" fill="#ff1a1a"/>
<rect x="80.16" y="350.02" width="3.78" height="3.78" fill="#ff1a1a"/>
<rect x="91.91" y="348.51" width="3.78" height="3.78" fill="#ff1a1a"/>
<rect x="97.41" y="339.1" width="3.78" height="3.78" fill="#ff1a1a"/>
<rect x="102.91" y="337.3" width="3.78" height="3.78" fill="#ff1a1a"/>
<rect x="108.41" y="332.63" width="3.78" height="3.78" fill="#ff1a1a"/>
<rect x="113.91" y="334.1" width="3.78" height="3.78" fill="#ff1a1a"/>
<rect x="135.91" y="324.61" width="3.78" height="3.78" fill="#ff1a1a"/>
<rect x="157.91" y="329.1" width="3.78" height="3.78" fill="#ff1a1a"/>
<rect x="179.91" y="324.83" width="3.78" height="3.78" fill="#ff1a1a"/>
<path d="M46.5 329.81V350.4M44.7 329.81H48.3M44.7 350.4H48.3" stroke="#2424d6" stroke-width="1" stroke-opacity="0.82" fill="none"/>
<path d="M52.5 318.85V340.91M50.7 318.85H54.3M50.7 340.91H54.3" stroke="#2424d6" stroke-width="1" stroke-opacity="0.82" fill="none"/>
<path d="M58.5 320.51V355.81M56.7 320.51H60.3M56.7 355.81H60.3" stroke="#2424d6" stroke-width="1" stroke-opacity="0.82" fill="none"/>
<path d="M64.5 335.58V357.64M62.7 335.58H66.3M62.7 357.64H66.3" stroke="#2424d6" stroke-width="1" stroke-opacity="0.82" fill="none"/>
<path d="M70.5 329.11V358.53M68.7 329.11H72.3M68.7 358.53H72.3" stroke="#2424d6" stroke-width="1" stroke-opacity="0.82" fill="none"/>
<path d="M76.5 333.27V361.95M74.7 333.27H78.3M74.7 361.95H78.3" stroke="#2424d6" stroke-width="1" stroke-opacity="0.82" fill="none"/>
<path d="M83.5 332.31V359.52M81.7 332.31H85.3M81.7 359.52H85.3" stroke="#2424d6" stroke-width="1" stroke-opacity="0.82" fill="none"/>
<path d="M94.5 333.15V360.73M92.7 333.15H96.3M92.7 360.73H96.3" stroke="#2424d6" stroke-width="1" stroke-opacity="0.82" fill="none"/>
<path d="M100.5 313.45V353.16M98.7 313.45H102.3M98.7 353.16H102.3" stroke="#2424d6" stroke-width="1" stroke-opacity="0.82" fill="none"/>
<path d="M105.5 314.55V353.16M103.7 314.55H107.3M103.7 353.16H107.3" stroke="#2424d6" stroke-width="1" stroke-opacity="0.82" fill="none"/>
<path d="M111.5 316.35V352.02M109.7 316.35H113.3M109.7 352.02H113.3" stroke="#2424d6" stroke-width="1" stroke-opacity="0.82" fill="none"/>
<path d="M116.5 319.33V352.42M114.7 319.33H118.3M114.7 352.42H118.3" stroke="#2424d6" stroke-width="1" stroke-opacity="0.82" fill="none"/>
<path d="M138.5 311.09V354.92M136.7 311.09H140.3M136.7 354.92H140.3" stroke="#2424d6" stroke-width="1" stroke-opacity="0.82" fill="none"/>
<path d="M160.5 311.79V356.21M158.7 311.79H162.3M158.7 356.21H162.3" stroke="#2424d6" stroke-width="1" stroke-opacity="0.82" fill="none"/>
<path d="M182.5 290.02V371.8M180.7 290.02H184.3M180.7 371.8H184.3" stroke="#2424d6" stroke-width="1" stroke-opacity="0.82" fill="none"/>
<path d="M45.15 340.1 L51.3 329.88 L57.45 343.3 L63.6 346.61 L69.75 343.82 L75.9 347.61 L82.05 350.69 L93.8 351.91 L99.3 339.19 L104.8 338.82 L110.3 337.31 L115.8 337.71 L137.8 333.01 L159.8 334 L181.8 331.21" stroke="#2424d6" stroke-width="1.1" fill="none"/>
<path d="M45.15 337.57L47.35 341.87L42.95 341.87Z" fill="#2424d6"/>
<path d="M51.3 327.35L53.5 331.65L49.09 331.65Z" fill="#2424d6"/>
<path d="M57.45 340.77L59.65 345.07L55.24 345.07Z" fill="#2424d6"/>
<path d="M63.6 344.08L65.8 348.38L61.39 348.38Z" fill="#2424d6"/>
<path d="M69.75 341.28L71.95 345.58L67.55 345.58Z" fill="#2424d6"/>
<path d="M75.9 345.07L78.11 349.37L73.7 349.37Z" fill="#2424d6"/>
<path d="M82.05 348.16L84.25 352.46L79.84 352.46Z" fill="#2424d6"/>
<path d="M93.8 349.37L96 353.67L91.59 353.67Z" fill="#2424d6"/>
<path d="M99.3 336.65L101.5 340.95L97.09 340.95Z" fill="#2424d6"/>
<path d="M104.8 336.28L107 340.58L102.59 340.58Z" fill="#2424d6"/>
<path d="M110.3 334.77L112.5 339.07L108.09 339.07Z" fill="#2424d6"/>
<path d="M115.8 335.18L118 339.48L113.59 339.48Z" fill="#2424d6"/>
<path d="M137.8 330.47L140.01 334.77L135.59 334.77Z" fill="#2424d6"/>
<path d="M159.8 331.46L162.01 335.76L157.59 335.76Z" fill="#2424d6"/>
<path d="M181.8 328.67L184.01 332.97L179.59 332.97Z" fill="#2424d6"/>
</g>
<path d="M38.6 261.49V371.8" stroke="#111" stroke-width="1.7" fill="none"/>
<path d="M37.55 371.8H91.3M92.9 371.8H182.3" stroke="#111" stroke-width="1.7" fill="none"/>
<path d="M91.1 370V372.6M93.1 370V372.6" stroke="#222" stroke-width="0.9" fill="none"/>
<text x="36" y="374.3" font-size="7.2" text-anchor="end" font-family="Liberation Sans, sans-serif" font-weight="bold" fill="#111">0</text>
<text x="36" y="337.53" font-size="7.2" text-anchor="end" font-family="Liberation Sans, sans-serif" font-weight="bold" fill="#111">100</text>
<text x="36" y="300.76" font-size="7.2" text-anchor="end" font-family="Liberation Sans, sans-serif" font-weight="bold" fill="#111">200</text>
<text x="36" y="263.99" font-size="7.2" text-anchor="end" font-family="Liberation Sans, sans-serif" font-weight="bold" fill="#111">300</text>
<text x="51.3" y="381.8" font-size="8.1" text-anchor="middle" font-family="Liberation Sans, sans-serif" font-weight="bold" stroke="#111" stroke-width="0.2" fill="#111">0</text>
<text x="75.9" y="381.8" font-size="8.1" text-anchor="middle" font-family="Liberation Sans, sans-serif" font-weight="bold" stroke="#111" stroke-width="0.2" fill="#111">1</text>
<text x="93.8" y="381.8" font-size="8.1" text-anchor="middle" font-family="Liberation Sans, sans-serif" font-weight="bold" stroke="#111" stroke-width="0.2" fill="#111">0</text>
<text x="115.8" y="381.8" font-size="8.1" text-anchor="middle" font-family="Liberation Sans, sans-serif" font-weight="bold" stroke="#111" stroke-width="0.2" fill="#111">1</text>
<text x="137.8" y="381.8" font-size="8.1" text-anchor="middle" font-family="Liberation Sans, sans-serif" font-weight="bold" stroke="#111" stroke-width="0.2" fill="#111">2</text>
<text x="159.8" y="381.8" font-size="8.1" text-anchor="middle" font-family="Liberation Sans, sans-serif" font-weight="bold" stroke="#111" stroke-width="0.2" fill="#111">3</text>
<text x="181.8" y="381.8" font-size="8.1" text-anchor="middle" font-family="Liberation Sans, sans-serif" font-weight="bold" stroke="#111" stroke-width="0.2" fill="#111">4</text>
<path d="M35.8 371.8H38.3M35.8 335.03H38.3M35.8 298.26H38.3M35.8 261.49H38.3M36.8 353.42H38.3M36.8 316.64H38.3M36.8 279.88H38.3M51.3 371.8V374.8M75.9 371.8V374.8M45.15 371.8V373.3M57.45 371.8V373.3M63.6 371.8V373.3M69.75 371.8V373.3M82.05 371.8V373.3M88.2 371.8V373.3M93.8 371.8V374.8M115.8 371.8V374.8M137.8 371.8V374.8M159.8 371.8V374.8M181.8 371.8V374.8M99.3 371.8V373.3M104.8 371.8V373.3M110.3 371.8V373.3M121.3 371.8V373.3M126.8 371.8V373.3M132.3 371.8V373.3M143.3 371.8V373.3M148.8 371.8V373.3M154.3 371.8V373.3M165.3 371.8V373.3M170.8 371.8V373.3M176.3 371.8V373.3" stroke="#111" stroke-width="1.1" fill="none"/>
<rect x="205" y="344.22" width="144" height="27.58" fill="#d3d3d3"/>
<clipPath id="clipC1"><rect x="202" y="241.49" width="154" height="130.31"/></clipPath>
<g clip-path="url(#clipC1)">
<path d="M211.5 330.84V345.55M209.7 330.84H213.3M209.7 345.55H213.3" stroke="#1e8a1e" stroke-width="1" stroke-opacity="0.82" fill="none"/>
<path d="M218.5 322.01V340.4M216.7 322.01H220.3M216.7 340.4H220.3" stroke="#1e8a1e" stroke-width="1" stroke-opacity="0.82" fill="none"/>
<path d="M224.5 298.37V368.23M222.7 298.37H226.3M222.7 368.23H226.3" stroke="#1e8a1e" stroke-width="1" stroke-opacity="0.82" fill="none"/>
<path d="M230.5 306.68V365.51M228.7 306.68H232.3M228.7 365.51H232.3" stroke="#1e8a1e" stroke-width="1" stroke-opacity="0.82" fill="none"/>
<path d="M236.5 332.9V369.67M234.7 332.9H238.3M234.7 369.67H238.3" stroke="#1e8a1e" stroke-width="1" stroke-opacity="0.82" fill="none"/>
<path d="M242.5 320.54V371.8M240.7 320.54H244.3M240.7 371.8H244.3" stroke="#1e8a1e" stroke-width="1" stroke-opacity="0.82" fill="none"/>
<path d="M248.5 310.69V371.73M246.7 310.69H250.3M246.7 371.73H250.3" stroke="#1e8a1e" stroke-width="1" stroke-opacity="0.82" fill="none"/>
<path d="M260.5 324V368.12M258.7 324H262.3M258.7 368.12H262.3" stroke="#1e8a1e" stroke-width="1" stroke-opacity="0.82" fill="none"/>
<path d="M266.5 301.31V367.5M264.7 301.31H268.3M264.7 367.5H268.3" stroke="#1e8a1e" stroke-width="1" stroke-opacity="0.82" fill="none"/>
<path d="M271.5 312.23V363.71M269.7 312.23H273.3M269.7 363.71H273.3" stroke="#1e8a1e" stroke-width="1" stroke-opacity="0.82" fill="none"/>
<path d="M277.5 286.49V371.8M275.7 286.49H279.3M275.7 371.8H279.3" stroke="#1e8a1e" stroke-width="1" stroke-opacity="0.82" fill="none"/>
<path d="M282.5 318.04V362.17M280.7 318.04H284.3M280.7 362.17H284.3" stroke="#1e8a1e" stroke-width="1" stroke-opacity="0.82" fill="none"/>
<path d="M304.5 291.35V356.06M302.7 291.35H306.3M302.7 356.06H306.3" stroke="#1e8a1e" stroke-width="1" stroke-opacity="0.82" fill="none"/>
<path d="M326.5 302.05V360.14M324.7 302.05H328.3M324.7 360.14H328.3" stroke="#1e8a1e" stroke-width="1" stroke-opacity="0.82" fill="none"/>
<path d="M348.5 261.49V353.49M346.7 353.49H350.3" stroke="#1e8a1e" stroke-width="1" stroke-opacity="0.82" fill="none"/>
<path d="M211.85 338.19 L218 331.21 L224.15 333.3 L230.3 336.1 L236.45 351.28 L242.6 348.12 L248.75 341.21 L260.5 346.06 L266 334.4 L271.5 337.97 L277 333.19 L282.5 340.1 L304.5 323.7 L326.5 331.1 L348.5 305.69" stroke="#1e8a1e" stroke-width="1.1" fill="none"/>
<circle cx="211.85" cy="338.19" r="1.9" fill="#1e8a1e"/>
<circle cx="218" cy="331.21" r="1.9" fill="#1e8a1e"/>
<circle cx="224.15" cy="333.3" r="1.9" fill="#1e8a1e"/>
<circle cx="230.3" cy="336.1" r="1.9" fill="#1e8a1e"/>
<circle cx="236.45" cy="351.28" r="1.9" fill="#1e8a1e"/>
<circle cx="242.6" cy="348.12" r="1.9" fill="#1e8a1e"/>
<circle cx="248.75" cy="341.21" r="1.9" fill="#1e8a1e"/>
<circle cx="260.5" cy="346.06" r="1.9" fill="#1e8a1e"/>
<circle cx="266" cy="334.4" r="1.9" fill="#1e8a1e"/>
<circle cx="271.5" cy="337.97" r="1.9" fill="#1e8a1e"/>
<circle cx="277" cy="333.19" r="1.9" fill="#1e8a1e"/>
<circle cx="282.5" cy="340.1" r="1.9" fill="#1e8a1e"/>
<circle cx="304.5" cy="323.7" r="1.9" fill="#1e8a1e"/>
<circle cx="326.5" cy="331.1" r="1.9" fill="#1e8a1e"/>
<circle cx="348.5" cy="305.69" r="1.9" fill="#1e8a1e"/>
<path d="M211.5 320.8V345.8M209.7 320.8H213.3M209.7 345.8H213.3" stroke="#ff1a1a" stroke-width="1" stroke-opacity="0.82" fill="none"/>
<path d="M218.5 314.92V342.49M216.7 314.92H220.3M216.7 342.49H220.3" stroke="#ff1a1a" stroke-width="1" stroke-opacity="0.82" fill="none"/>
<path d="M224.5 289.91V342.86M222.7 289.91H226.3M222.7 342.86H226.3" stroke="#ff1a1a" stroke-width="1" stroke-opacity="0.82" fill="none"/>
<path d="M230.5 304.51V370.7M228.7 304.51H232.3M228.7 370.7H232.3" stroke="#ff1a1a" stroke-width="1" stroke-opacity="0.82" fill="none"/>
<path d="M236.5 333.3V370.07M234.7 333.3H238.3M234.7 370.07H238.3" stroke="#ff1a1a" stroke-width="1" stroke-opacity="0.82" fill="none"/>
<path d="M242.5 326.39V371.8M240.7 326.39H244.3M240.7 371.8H244.3" stroke="#ff1a1a" stroke-width="1" stroke-opacity="0.82" fill="none"/>
<path d="M248.5 338.23V371.8M246.7 338.23H250.3M246.7 371.8H250.3" stroke="#ff1a1a" stroke-width="1" stroke-opacity="0.82" fill="none"/>
<path d="M260.5 319.51V362.9M258.7 319.51H262.3M258.7 362.9H262.3" stroke="#ff1a1a" stroke-width="1" stroke-opacity="0.82" fill="none"/>
<path d="M266.5 300.98V368.64M264.7 300.98H268.3M264.7 368.64H268.3" stroke="#ff1a1a" stroke-width="1" stroke-opacity="0.82" fill="none"/>
<path d="M271.5 306.86V371.8M269.7 306.86H273.3M269.7 371.8H273.3" stroke="#ff1a1a" stroke-width="1" stroke-opacity="0.82" fill="none"/>
<path d="M277.5 311.28V370.11M275.7 311.28H279.3M275.7 370.11H279.3" stroke="#ff1a1a" stroke-width="1" stroke-opacity="0.82" fill="none"/>
<path d="M282.5 298.19V371.8M280.7 298.19H284.3M280.7 371.8H284.3" stroke="#ff1a1a" stroke-width="1" stroke-opacity="0.82" fill="none"/>
<path d="M304.5 295.47V356.5M302.7 295.47H306.3M302.7 356.5H306.3" stroke="#ff1a1a" stroke-width="1" stroke-opacity="0.82" fill="none"/>
<path d="M326.5 292.16V359.81M324.7 292.16H328.3M324.7 359.81H328.3" stroke="#ff1a1a" stroke-width="1" stroke-opacity="0.82" fill="none"/>
<path d="M348.5 311.72V359.52M346.7 311.72H350.3M346.7 359.52H350.3" stroke="#ff1a1a" stroke-width="1" stroke-opacity="0.82" fill="none"/>
<path d="M211.85 333.3 L218 328.71 L224.15 316.39 L230.3 337.6 L236.45 351.69 L242.6 350.29 L248.75 356.61 L260.5 341.21 L266 334.81 L271.5 340.69 L277 340.69 L282.5 340.1 L304.5 325.98 L326.5 325.98 L348.5 335.62" stroke="#ff1a1a" stroke-width="1.1" fill="none"/>
<rect x="210.05" y="331.5" width="3.6" height="3.6" fill="#ff1a1a"/>
<rect x="216.2" y="326.91" width="3.6" height="3.6" fill="#ff1a1a"/>
<rect x="222.35" y="314.59" width="3.6" height="3.6" fill="#ff1a1a"/>
<rect x="228.5" y="335.8" width="3.6" height="3.6" fill="#ff1a1a"/>
<rect x="234.65" y="349.89" width="3.6" height="3.6" fill="#ff1a1a"/>
<rect x="240.8" y="348.49" width="3.6" height="3.6" fill="#ff1a1a"/>
<rect x="246.95" y="354.81" width="3.6" height="3.6" fill="#ff1a1a"/>
<rect x="258.7" y="339.41" width="3.6" height="3.6" fill="#ff1a1a"/>
<rect x="264.2" y="333.01" width="3.6" height="3.6" fill="#ff1a1a"/>
<rect x="269.7" y="338.89" width="3.6" height="3.6" fill="#ff1a1a"/>
<rect x="275.2" y="338.89" width="3.6" height="3.6" fill="#ff1a1a"/>
<rect x="280.7" y="338.3" width="3.6" height="3.6" fill="#ff1a1a"/>
<rect x="302.7" y="324.18" width="3.6" height="3.6" fill="#ff1a1a"/>
<rect x="324.7" y="324.18" width="3.6" height="3.6" fill="#ff1a1a"/>
<rect x="346.7" y="333.82" width="3.6" height="3.6" fill="#ff1a1a"/>
<path d="M212.5 326.35V343.27M210.7 326.35H214.3M210.7 343.27H214.3" stroke="#2424d6" stroke-width="1" stroke-opacity="0.82" fill="none"/>
<path d="M219.5 314.92V340.29M217.7 314.92H221.3M217.7 340.29H221.3" stroke="#2424d6" stroke-width="1" stroke-opacity="0.82" fill="none"/>
<path d="M225.5 315.95V371.8M223.7 315.95H227.3M223.7 371.8H227.3" stroke="#2424d6" stroke-width="1" stroke-opacity="0.82" fill="none"/>
<path d="M231.5 341.28V367.76M229.7 341.28H233.3M229.7 367.76H233.3" stroke="#2424d6" stroke-width="1" stroke-opacity="0.82" fill="none"/>
<path d="M237.5 330.36V371.8M235.7 330.36H239.3M235.7 371.8H239.3" stroke="#2424d6" stroke-width="1" stroke-opacity="0.82" fill="none"/>
<path d="M243.5 331.46V371.8M241.7 331.46H245.3M241.7 371.8H245.3" stroke="#2424d6" stroke-width="1" stroke-opacity="0.82" fill="none"/>
<path d="M249.5 315.47V371.8M247.7 315.47H251.3M247.7 371.8H251.3" stroke="#2424d6" stroke-width="1" stroke-opacity="0.82" fill="none"/>
<path d="M261.5 330.07V370.51M259.7 330.07H263.3M259.7 370.51H263.3" stroke="#2424d6" stroke-width="1" stroke-opacity="0.82" fill="none"/>
<path d="M267.5 280.35V371.8M265.7 280.35H269.3M265.7 371.8H269.3" stroke="#2424d6" stroke-width="1" stroke-opacity="0.82" fill="none"/>
<path d="M272.5 283.04V371.8M270.7 283.04H274.3M270.7 371.8H274.3" stroke="#2424d6" stroke-width="1" stroke-opacity="0.82" fill="none"/>
<path d="M278.5 286.05V371.8M276.7 286.05H280.3M276.7 371.8H280.3" stroke="#2424d6" stroke-width="1" stroke-opacity="0.82" fill="none"/>
<path d="M283.5 291.24V371.8M281.7 291.24H285.3M281.7 371.8H285.3" stroke="#2424d6" stroke-width="1" stroke-opacity="0.82" fill="none"/>
<path d="M305.5 296.94V371.8M303.7 296.94H307.3M303.7 371.8H307.3" stroke="#2424d6" stroke-width="1" stroke-opacity="0.82" fill="none"/>
<path d="M327.5 303.41V371.8M325.7 303.41H329.3M325.7 371.8H329.3" stroke="#2424d6" stroke-width="1" stroke-opacity="0.82" fill="none"/>
<path d="M349.5 310.91V371.8M347.7 310.91H351.3M347.7 371.8H351.3" stroke="#2424d6" stroke-width="1" stroke-opacity="0.82" fill="none"/>
<path d="M211.85 334.81 L218 327.6 L224.15 343.89 L230.3 354.52 L236.45 351.69 L242.6 357.2 L248.75 345.99 L260.5 350.29 L266 335.51 L271.5 338.19 L277 341.21 L282.5 341.61 L304.5 340.69 L326.5 343.12 L348.5 344" stroke="#2424d6" stroke-width="1.1" fill="none"/>
<path d="M211.85 332.39L213.95 336.49L209.75 336.49Z" fill="#2424d6"/>
<path d="M218 325.19L220.1 329.28L215.9 329.28Z" fill="#2424d6"/>
<path d="M224.15 341.48L226.25 345.57L222.05 345.57Z" fill="#2424d6"/>
<path d="M230.3 352.1L232.4 356.2L228.2 356.2Z" fill="#2424d6"/>
<path d="M236.45 349.27L238.55 353.37L234.35 353.37Z" fill="#2424d6"/>
<path d="M242.6 354.79L244.7 358.88L240.5 358.88Z" fill="#2424d6"/>
<path d="M248.75 343.57L250.85 347.67L246.65 347.67Z" fill="#2424d6"/>
<path d="M260.5 347.87L262.6 351.97L258.4 351.97Z" fill="#2424d6"/>
<path d="M266 333.09L268.1 337.19L263.9 337.19Z" fill="#2424d6"/>
<path d="M271.5 335.78L273.6 339.87L269.4 339.87Z" fill="#2424d6"/>
<path d="M277 338.79L279.1 342.89L274.9 342.89Z" fill="#2424d6"/>
<path d="M282.5 339.2L284.6 343.29L280.4 343.29Z" fill="#2424d6"/>
<path d="M304.5 338.28L306.6 342.37L302.4 342.37Z" fill="#2424d6"/>
<path d="M326.5 340.7L328.6 344.8L324.4 344.8Z" fill="#2424d6"/>
<path d="M348.5 341.59L350.6 345.68L346.4 345.68Z" fill="#2424d6"/>
</g>
<path d="M205.3 261.49V371.8" stroke="#111" stroke-width="1.7" fill="none"/>
<path d="M204.25 371.8H258M259.6 371.8H349" stroke="#111" stroke-width="1.7" fill="none"/>
<path d="M257.8 370V372.6M259.8 370V372.6" stroke="#222" stroke-width="0.9" fill="none"/>
<text x="202.7" y="374.3" font-size="7.2" text-anchor="end" font-family="Liberation Sans, sans-serif" font-weight="bold" fill="#111">0</text>
<text x="202.7" y="337.53" font-size="7.2" text-anchor="end" font-family="Liberation Sans, sans-serif" font-weight="bold" fill="#111">100</text>
<text x="202.7" y="300.76" font-size="7.2" text-anchor="end" font-family="Liberation Sans, sans-serif" font-weight="bold" fill="#111">200</text>
<text x="202.7" y="263.99" font-size="7.2" text-anchor="end" font-family="Liberation Sans, sans-serif" font-weight="bold" fill="#111">300</text>
<text x="218" y="381.8" font-size="8.1" text-anchor="middle" font-family="Liberation Sans, sans-serif" font-weight="bold" stroke="#111" stroke-width="0.2" fill="#111">0</text>
<text x="242.6" y="381.8" font-size="8.1" text-anchor="middle" font-family="Liberation Sans, sans-serif" font-weight="bold" stroke="#111" stroke-width="0.2" fill="#111">1</text>
<text x="260.5" y="381.8" font-size="8.1" text-anchor="middle" font-family="Liberation Sans, sans-serif" font-weight="bold" stroke="#111" stroke-width="0.2" fill="#111">0</text>
<text x="282.5" y="381.8" font-size="8.1" text-anchor="middle" font-family="Liberation Sans, sans-serif" font-weight="bold" stroke="#111" stroke-width="0.2" fill="#111">1</text>
<text x="304.5" y="381.8" font-size="8.1" text-anchor="middle" font-family="Liberation Sans, sans-serif" font-weight="bold" stroke="#111" stroke-width="0.2" fill="#111">2</text>
<text x="326.5" y="381.8" font-size="8.1" text-anchor="middle" font-family="Liberation Sans, sans-serif" font-weight="bold" stroke="#111" stroke-width="0.2" fill="#111">3</text>
<text x="348.5" y="381.8" font-size="8.1" text-anchor="middle" font-family="Liberation Sans, sans-serif" font-weight="bold" stroke="#111" stroke-width="0.2" fill="#111">4</text>
<path d="M202.5 371.8H205M202.5 335.03H205M202.5 298.26H205M202.5 261.49H205M203.5 353.42H205M203.5 316.64H205M203.5 279.88H205M218 371.8V374.8M242.6 371.8V374.8M211.85 371.8V373.3M224.15 371.8V373.3M230.3 371.8V373.3M236.45 371.8V373.3M248.75 371.8V373.3M254.9 371.8V373.3M260.5 371.8V374.8M282.5 371.8V374.8M304.5 371.8V374.8M326.5 371.8V374.8M348.5 371.8V374.8M266 371.8V373.3M271.5 371.8V373.3M277 371.8V373.3M288 371.8V373.3M293.5 371.8V373.3M299 371.8V373.3M310 371.8V373.3M315.5 371.8V373.3M321 371.8V373.3M332 371.8V373.3M337.5 371.8V373.3M343 371.8V373.3" stroke="#111" stroke-width="1.1" fill="none"/>
<rect x="372.3" y="344.22" width="144" height="27.58" fill="#d3d3d3"/>
<clipPath id="clipC2"><rect x="369.3" y="241.49" width="154" height="130.31"/></clipPath>
<g clip-path="url(#clipC2)">
<path d="M379.5 328.15V342.86M377.7 328.15H381.3M377.7 342.86H381.3" stroke="#1e8a1e" stroke-width="1" stroke-opacity="0.82" fill="none"/>
<path d="M385.5 318.48V333.34M383.7 318.48H387.3M383.7 333.34H387.3" stroke="#1e8a1e" stroke-width="1" stroke-opacity="0.82" fill="none"/>
<path d="M391.5 336.21V354.59M389.7 336.21H393.3M389.7 354.59H393.3" stroke="#1e8a1e" stroke-width="1" stroke-opacity="0.82" fill="none"/>
<path d="M397.5 343.93V358.64M395.7 343.93H399.3M395.7 358.64H399.3" stroke="#1e8a1e" stroke-width="1" stroke-opacity="0.82" fill="none"/>
<path d="M403.5 341.43V356.14M401.7 341.43H405.3M401.7 356.14H405.3" stroke="#1e8a1e" stroke-width="1" stroke-opacity="0.82" fill="none"/>
<path d="M409.5 342.94V357.64M407.7 342.94H411.3M407.7 357.64H411.3" stroke="#1e8a1e" stroke-width="1" stroke-opacity="0.82" fill="none"/>
<path d="M416.5 338.3V356.69M414.7 338.3H418.3M414.7 356.69H418.3" stroke="#1e8a1e" stroke-width="1" stroke-opacity="0.82" fill="none"/>
<path d="M427.5 329.66V351.72M425.7 329.66H429.3M425.7 351.72H429.3" stroke="#1e8a1e" stroke-width="1" stroke-opacity="0.82" fill="none"/>
<path d="M433.5 305.91V338.27M431.7 305.91H435.3M431.7 338.27H435.3" stroke="#1e8a1e" stroke-width="1" stroke-opacity="0.82" fill="none"/>
<path d="M438.5 312.82V349.59M436.7 312.82H440.3M436.7 349.59H440.3" stroke="#1e8a1e" stroke-width="1" stroke-opacity="0.82" fill="none"/>
<path d="M444.5 305.43V342.2M442.7 305.43H446.3M442.7 342.2H446.3" stroke="#1e8a1e" stroke-width="1" stroke-opacity="0.82" fill="none"/>
<path d="M449.5 314.37V340.84M447.7 314.37H451.3M447.7 340.84H451.3" stroke="#1e8a1e" stroke-width="1" stroke-opacity="0.82" fill="none"/>
<path d="M471.5 305.25V347.9M469.7 305.25H473.3M469.7 347.9H473.3" stroke="#1e8a1e" stroke-width="1" stroke-opacity="0.82" fill="none"/>
<path d="M493.5 308.7V343.27M491.7 308.7H495.3M491.7 343.27H495.3" stroke="#1e8a1e" stroke-width="1" stroke-opacity="0.82" fill="none"/>
<path d="M515.5 302.08V338.12M513.7 302.08H517.3M513.7 338.12H517.3" stroke="#1e8a1e" stroke-width="1" stroke-opacity="0.82" fill="none"/>
<path d="M379.15 335.51 L385.3 325.91 L391.45 345.4 L397.6 351.28 L403.75 348.78 L409.9 350.29 L416.05 347.5 L427.8 340.69 L433.3 322.09 L438.8 331.21 L444.3 323.82 L449.8 327.6 L471.8 326.57 L493.8 325.98 L515.8 320.1" stroke="#1e8a1e" stroke-width="1.1" fill="none"/>
<circle cx="379.15" cy="335.51" r="1.9" fill="#1e8a1e"/>
<circle cx="385.3" cy="325.91" r="1.9" fill="#1e8a1e"/>
<circle cx="391.45" cy="345.4" r="1.9" fill="#1e8a1e"/>
<circle cx="397.6" cy="351.28" r="1.9" fill="#1e8a1e"/>
<circle cx="403.75" cy="348.78" r="1.9" fill="#1e8a1e"/>
<circle cx="409.9" cy="350.29" r="1.9" fill="#1e8a1e"/>
<circle cx="416.05" cy="347.5" r="1.9" fill="#1e8a1e"/>
<circle cx="427.8" cy="340.69" r="1.9" fill="#1e8a1e"/>
<circle cx="433.3" cy="322.09" r="1.9" fill="#1e8a1e"/>
<circle cx="438.8" cy="331.21" r="1.9" fill="#1e8a1e"/>
<circle cx="444.3" cy="323.82" r="1.9" fill="#1e8a1e"/>
<circle cx="449.8" cy="327.6" r="1.9" fill="#1e8a1e"/>
<circle cx="471.8" cy="326.57" r="1.9" fill="#1e8a1e"/>
<circle cx="493.8" cy="325.98" r="1.9" fill="#1e8a1e"/>
<circle cx="515.8" cy="320.1" r="1.9" fill="#1e8a1e"/>
<path d="M379.5 327.68V347.53M377.7 327.68H381.3M377.7 347.53H381.3" stroke="#ff1a1a" stroke-width="1" stroke-opacity="0.82" fill="none"/>
<path d="M385.5 317.82V336.21M383.7 317.82H387.3M383.7 336.21H387.3" stroke="#ff1a1a" stroke-width="1" stroke-opacity="0.82" fill="none"/>
<path d="M391.5 336.21V354.59M389.7 336.21H393.3M389.7 354.59H393.3" stroke="#ff1a1a" stroke-width="1" stroke-opacity="0.82" fill="none"/>
<path d="M397.5 338.93V357.31M395.7 338.93H399.3M395.7 357.31H399.3" stroke="#ff1a1a" stroke-width="1" stroke-opacity="0.82" fill="none"/>
<path d="M403.5 337.24V359.3M401.7 337.24H405.3M401.7 359.3H405.3" stroke="#ff1a1a" stroke-width="1" stroke-opacity="0.82" fill="none"/>
<path d="M409.5 345.33V363.71M407.7 345.33H411.3M407.7 363.71H411.3" stroke="#ff1a1a" stroke-width="1" stroke-opacity="0.82" fill="none"/>
<path d="M416.5 335.91V361.65M414.7 335.91H418.3M414.7 361.65H418.3" stroke="#ff1a1a" stroke-width="1" stroke-opacity="0.82" fill="none"/>
<path d="M427.5 332.86V354.92M425.7 332.86H429.3M425.7 354.92H429.3" stroke="#ff1a1a" stroke-width="1" stroke-opacity="0.82" fill="none"/>
<path d="M433.5 320.8V350.22M431.7 320.8H435.3M431.7 350.22H435.3" stroke="#ff1a1a" stroke-width="1" stroke-opacity="0.82" fill="none"/>
<path d="M438.5 316.76V349.85M436.7 316.76H440.3M436.7 349.85H440.3" stroke="#ff1a1a" stroke-width="1" stroke-opacity="0.82" fill="none"/>
<path d="M444.5 320.32V349.74M442.7 320.32H446.3M442.7 349.74H446.3" stroke="#ff1a1a" stroke-width="1" stroke-opacity="0.82" fill="none"/>
<path d="M449.5 333.67V360.14M447.7 333.67H451.3M447.7 360.14H451.3" stroke="#ff1a1a" stroke-width="1" stroke-opacity="0.82" fill="none"/>
<path d="M471.5 322.38V351.8M469.7 322.38H473.3M469.7 351.8H473.3" stroke="#ff1a1a" stroke-width="1" stroke-opacity="0.82" fill="none"/>
<path d="M493.5 313.67V346.76M491.7 313.67H495.3M491.7 346.76H495.3" stroke="#ff1a1a" stroke-width="1" stroke-opacity="0.82" fill="none"/>
<path d="M515.5 309.29V348.71M513.7 309.29H517.3M513.7 348.71H517.3" stroke="#ff1a1a" stroke-width="1" stroke-opacity="0.82" fill="none"/>
<path d="M379.15 337.6 L385.3 327.01 L391.45 345.4 L397.6 348.12 L403.75 348.27 L409.9 354.52 L416.05 348.78 L427.8 343.89 L433.3 335.51 L438.8 333.3 L444.3 335.03 L449.8 346.91 L471.8 337.09 L493.8 330.21 L515.8 329" stroke="#ff1a1a" stroke-width="1.1" fill="none"/>
<rect x="377.35" y="335.8" width="3.6" height="3.6" fill="#ff1a1a"/>
<rect x="383.5" y="325.21" width="3.6" height="3.6" fill="#ff1a1a"/>
<rect x="389.65" y="343.6" width="3.6" height="3.6" fill="#ff1a1a"/>
<rect x="395.8" y="346.32" width="3.6" height="3.6" fill="#ff1a1a"/>
<rect x="401.95" y="346.47" width="3.6" height="3.6" fill="#ff1a1a"/>
<rect x="408.1" y="352.72" width="3.6" height="3.6" fill="#ff1a1a"/>
<rect x="414.25" y="346.98" width="3.6" height="3.6" fill="#ff1a1a"/>
<rect x="426" y="342.09" width="3.6" height="3.6" fill="#ff1a1a"/>
<rect x="431.5" y="333.71" width="3.6" height="3.6" fill="#ff1a1a"/>
<rect x="437" y="331.5" width="3.6" height="3.6" fill="#ff1a1a"/>
<rect x="442.5" y="333.23" width="3.6" height="3.6" fill="#ff1a1a"/>
<rect x="448" y="345.11" width="3.6" height="3.6" fill="#ff1a1a"/>
<rect x="470" y="335.29" width="3.6" height="3.6" fill="#ff1a1a"/>
<rect x="492" y="328.41" width="3.6" height="3.6" fill="#ff1a1a"/>
<rect x="514" y="327.2" width="3.6" height="3.6" fill="#ff1a1a"/>
<path d="M380.5 333.85V348.56M378.7 333.85H382.3M378.7 348.56H382.3" stroke="#2424d6" stroke-width="1" stroke-opacity="0.82" fill="none"/>
<path d="M386.5 310.69V339.07M384.7 310.69H388.3M384.7 339.07H388.3" stroke="#2424d6" stroke-width="1" stroke-opacity="0.82" fill="none"/>
<path d="M392.5 329.7V352.72M390.7 329.7H394.3M390.7 352.72H394.3" stroke="#2424d6" stroke-width="1" stroke-opacity="0.82" fill="none"/>
<path d="M398.5 334.22V357.75M396.7 334.22H400.3M396.7 357.75H400.3" stroke="#2424d6" stroke-width="1" stroke-opacity="0.82" fill="none"/>
<path d="M404.5 328.12V355.47M402.7 328.12H406.3M402.7 355.47H406.3" stroke="#2424d6" stroke-width="1" stroke-opacity="0.82" fill="none"/>
<path d="M410.5 319.22V362.17M408.7 319.22H412.3M408.7 362.17H412.3" stroke="#2424d6" stroke-width="1" stroke-opacity="0.82" fill="none"/>
<path d="M417.5 316.39V360M415.7 316.39H419.3M415.7 360H419.3" stroke="#2424d6" stroke-width="1" stroke-opacity="0.82" fill="none"/>
<path d="M428.5 316.39V360M426.7 316.39H430.3M426.7 360H430.3" stroke="#2424d6" stroke-width="1" stroke-opacity="0.82" fill="none"/>
<path d="M434.5 318.12V354.89M432.7 318.12H436.3M432.7 354.89H436.3" stroke="#2424d6" stroke-width="1" stroke-opacity="0.82" fill="none"/>
<path d="M439.5 314.92V351.69M437.7 314.92H441.3M437.7 351.69H441.3" stroke="#2424d6" stroke-width="1" stroke-opacity="0.82" fill="none"/>
<path d="M445.5 317.12V353.89M443.7 317.12H447.3M443.7 353.89H447.3" stroke="#2424d6" stroke-width="1" stroke-opacity="0.82" fill="none"/>
<path d="M450.5 310.21V346.02M448.7 310.21H452.3M448.7 346.02H452.3" stroke="#2424d6" stroke-width="1" stroke-opacity="0.82" fill="none"/>
<path d="M472.5 309.29V345.1M470.7 309.29H474.3M470.7 345.1H474.3" stroke="#2424d6" stroke-width="1" stroke-opacity="0.82" fill="none"/>
<path d="M494.5 312.31V349.89M492.7 312.31H496.3M492.7 349.89H496.3" stroke="#2424d6" stroke-width="1" stroke-opacity="0.82" fill="none"/>
<path d="M516.5 324.29V355.92M514.7 324.29H518.3M514.7 355.92H518.3" stroke="#2424d6" stroke-width="1" stroke-opacity="0.82" fill="none"/>
<path d="M379.15 341.21 L385.3 324.88 L391.45 341.21 L397.6 345.99 L403.75 341.8 L409.9 340.69 L416.05 338.19 L427.8 338.19 L433.3 336.5 L438.8 333.3 L444.3 335.51 L449.8 328.12 L471.8 327.2 L493.8 331.1 L515.8 340.1" stroke="#2424d6" stroke-width="1.1" fill="none"/>
<path d="M379.15 338.79L381.25 342.89L377.05 342.89Z" fill="#2424d6"/>
<path d="M385.3 322.47L387.4 326.56L383.2 326.56Z" fill="#2424d6"/>
<path d="M391.45 338.79L393.55 342.89L389.35 342.89Z" fill="#2424d6"/>
<path d="M397.6 343.57L399.7 347.67L395.5 347.67Z" fill="#2424d6"/>
<path d="M403.75 339.38L405.85 343.48L401.65 343.48Z" fill="#2424d6"/>
<path d="M409.9 338.28L412 342.37L407.8 342.37Z" fill="#2424d6"/>
<path d="M416.05 335.78L418.15 339.87L413.95 339.87Z" fill="#2424d6"/>
<path d="M427.8 335.78L429.9 339.87L425.7 339.87Z" fill="#2424d6"/>
<path d="M433.3 334.09L435.4 338.18L431.2 338.18Z" fill="#2424d6"/>
<path d="M438.8 330.89L440.9 334.98L436.7 334.98Z" fill="#2424d6"/>
<path d="M444.3 333.09L446.4 337.19L442.2 337.19Z" fill="#2424d6"/>
<path d="M449.8 325.7L451.9 329.8L447.7 329.8Z" fill="#2424d6"/>
<path d="M471.8 324.78L473.9 328.88L469.7 328.88Z" fill="#2424d6"/>
<path d="M493.8 328.68L495.9 332.78L491.7 332.78Z" fill="#2424d6"/>
<path d="M515.8 337.69L517.9 341.78L513.7 341.78Z" fill="#2424d6"/>
</g>
<path d="M372.6 261.49V371.8" stroke="#111" stroke-width="1.7" fill="none"/>
<path d="M371.55 371.8H425.3M426.9 371.8H516.3" stroke="#111" stroke-width="1.7" fill="none"/>
<path d="M425.1 370V372.6M427.1 370V372.6" stroke="#222" stroke-width="0.9" fill="none"/>
<text x="370" y="374.3" font-size="7.2" text-anchor="end" font-family="Liberation Sans, sans-serif" font-weight="bold" fill="#111">0</text>
<text x="370" y="337.53" font-size="7.2" text-anchor="end" font-family="Liberation Sans, sans-serif" font-weight="bold" fill="#111">100</text>
<text x="370" y="300.76" font-size="7.2" text-anchor="end" font-family="Liberation Sans, sans-serif" font-weight="bold" fill="#111">200</text>
<text x="370" y="263.99" font-size="7.2" text-anchor="end" font-family="Liberation Sans, sans-serif" font-weight="bold" fill="#111">300</text>
<text x="385.3" y="381.8" font-size="8.1" text-anchor="middle" font-family="Liberation Sans, sans-serif" font-weight="bold" stroke="#111" stroke-width="0.2" fill="#111">0</text>
<text x="409.9" y="381.8" font-size="8.1" text-anchor="middle" font-family="Liberation Sans, sans-serif" font-weight="bold" stroke="#111" stroke-width="0.2" fill="#111">1</text>
<text x="427.8" y="381.8" font-size="8.1" text-anchor="middle" font-family="Liberation Sans, sans-serif" font-weight="bold" stroke="#111" stroke-width="0.2" fill="#111">0</text>
<text x="449.8" y="381.8" font-size="8.1" text-anchor="middle" font-family="Liberation Sans, sans-serif" font-weight="bold" stroke="#111" stroke-width="0.2" fill="#111">1</text>
<text x="471.8" y="381.8" font-size="8.1" text-anchor="middle" font-family="Liberation Sans, sans-serif" font-weight="bold" stroke="#111" stroke-width="0.2" fill="#111">2</text>
<text x="493.8" y="381.8" font-size="8.1" text-anchor="middle" font-family="Liberation Sans, sans-serif" font-weight="bold" stroke="#111" stroke-width="0.2" fill="#111">3</text>
<text x="515.8" y="381.8" font-size="8.1" text-anchor="middle" font-family="Liberation Sans, sans-serif" font-weight="bold" stroke="#111" stroke-width="0.2" fill="#111">4</text>
<path d="M369.8 371.8H372.3M369.8 335.03H372.3M369.8 298.26H372.3M369.8 261.49H372.3M370.8 353.42H372.3M370.8 316.64H372.3M370.8 279.88H372.3M385.3 371.8V374.8M409.9 371.8V374.8M379.15 371.8V373.3M391.45 371.8V373.3M397.6 371.8V373.3M403.75 371.8V373.3M416.05 371.8V373.3M422.2 371.8V373.3M427.8 371.8V374.8M449.8 371.8V374.8M471.8 371.8V374.8M493.8 371.8V374.8M515.8 371.8V374.8M433.3 371.8V373.3M438.8 371.8V373.3M444.3 371.8V373.3M455.3 371.8V373.3M460.8 371.8V373.3M466.3 371.8V373.3M477.3 371.8V373.3M482.8 371.8V373.3M488.3 371.8V373.3M499.3 371.8V373.3M504.8 371.8V373.3M510.3 371.8V373.3" stroke="#111" stroke-width="1.1" fill="none"/>
<rect x="539" y="344.22" width="144" height="27.58" fill="#d3d3d3"/>
<clipPath id="clipC3"><rect x="536" y="241.49" width="154" height="130.31"/></clipPath>
<g clip-path="url(#clipC3)">
<path d="M545.5 319.99V371.8M543.7 319.99H547.3M543.7 371.8H547.3" stroke="#1e8a1e" stroke-width="1" stroke-opacity="0.82" fill="none"/>
<path d="M552.5 269.29V371.8M550.7 269.29H554.3M550.7 371.8H554.3" stroke="#1e8a1e" stroke-width="1" stroke-opacity="0.82" fill="none"/>
<path d="M558.5 334.63V371.4M556.7 334.63H560.3M556.7 371.4H560.3" stroke="#1e8a1e" stroke-width="1" stroke-opacity="0.82" fill="none"/>
<path d="M564.5 348.27V370.33M562.7 348.27H566.3M562.7 370.33H566.3" stroke="#1e8a1e" stroke-width="1" stroke-opacity="0.82" fill="none"/>
<path d="M570.5 343.38V371.8M568.7 343.38H572.3M568.7 371.8H572.3" stroke="#1e8a1e" stroke-width="1" stroke-opacity="0.82" fill="none"/>
<path d="M576.5 348.78V370.84M574.7 348.78H578.3M574.7 370.84H578.3" stroke="#1e8a1e" stroke-width="1" stroke-opacity="0.82" fill="none"/>
<path d="M582.5 350.88V371.8M580.7 350.88H584.3M580.7 371.8H584.3" stroke="#1e8a1e" stroke-width="1" stroke-opacity="0.82" fill="none"/>
<path d="M594.5 341.28V370.7M592.7 341.28H596.3M592.7 370.7H596.3" stroke="#1e8a1e" stroke-width="1" stroke-opacity="0.82" fill="none"/>
<path d="M600.5 297.41V371.4M598.7 297.41H602.3M598.7 371.4H602.3" stroke="#1e8a1e" stroke-width="1" stroke-opacity="0.82" fill="none"/>
<path d="M605.5 261.49V371.8M603.7 371.8H607.3" stroke="#1e8a1e" stroke-width="1" stroke-opacity="0.82" fill="none"/>
<path d="M611.5 287.49V366.91M609.7 287.49H613.3M609.7 366.91H613.3" stroke="#1e8a1e" stroke-width="1" stroke-opacity="0.82" fill="none"/>
<path d="M616.5 261.49V371.8M614.7 371.8H618.3" stroke="#1e8a1e" stroke-width="1" stroke-opacity="0.82" fill="none"/>
<path d="M638.5 316.2V362.83M636.7 316.2H640.3M636.7 362.83H640.3" stroke="#1e8a1e" stroke-width="1" stroke-opacity="0.82" fill="none"/>
<path d="M660.5 280.39V364M658.7 280.39H662.3M658.7 364H662.3" stroke="#1e8a1e" stroke-width="1" stroke-opacity="0.82" fill="none"/>
<path d="M682.5 300.43V371.8M680.7 300.43H684.3M680.7 371.8H684.3" stroke="#1e8a1e" stroke-width="1" stroke-opacity="0.82" fill="none"/>
<path d="M545.85 347.09 L552 327.01 L558.15 353.01 L564.3 359.3 L570.45 358.08 L576.6 359.81 L582.75 361.91 L594.5 355.99 L600 334.4 L605.5 322.2 L611 327.2 L616.5 314.11 L638.5 339.52 L660.5 322.2 L682.5 341.61" stroke="#1e8a1e" stroke-width="1.1" fill="none"/>
<circle cx="545.85" cy="347.09" r="1.9" fill="#1e8a1e"/>
<circle cx="552" cy="327.01" r="1.9" fill="#1e8a1e"/>
<circle cx="558.15" cy="353.01" r="1.9" fill="#1e8a1e"/>
<circle cx="564.3" cy="359.3" r="1.9" fill="#1e8a1e"/>
<circle cx="570.45" cy="358.08" r="1.9" fill="#1e8a1e"/>
<circle cx="576.6" cy="359.81" r="1.9" fill="#1e8a1e"/>
<circle cx="582.75" cy="361.91" r="1.9" fill="#1e8a1e"/>
<circle cx="594.5" cy="355.99" r="1.9" fill="#1e8a1e"/>
<circle cx="600" cy="334.4" r="1.9" fill="#1e8a1e"/>
<circle cx="605.5" cy="322.2" r="1.9" fill="#1e8a1e"/>
<circle cx="611" cy="327.2" r="1.9" fill="#1e8a1e"/>
<circle cx="616.5" cy="314.11" r="1.9" fill="#1e8a1e"/>
<circle cx="638.5" cy="339.52" r="1.9" fill="#1e8a1e"/>
<circle cx="660.5" cy="322.2" r="1.9" fill="#1e8a1e"/>
<circle cx="682.5" cy="341.61" r="1.9" fill="#1e8a1e"/>
<path d="M545.5 321.68V350.51M543.7 321.68H547.3M543.7 350.51H547.3" stroke="#ff1a1a" stroke-width="1" stroke-opacity="0.82" fill="none"/>
<path d="M552.5 303.7V371.8M550.7 303.7H554.3M550.7 371.8H554.3" stroke="#ff1a1a" stroke-width="1" stroke-opacity="0.82" fill="none"/>
<path d="M558.5 335.84V368.93M556.7 335.84H560.3M556.7 368.93H560.3" stroke="#ff1a1a" stroke-width="1" stroke-opacity="0.82" fill="none"/>
<path d="M564.5 344.59V371.8M562.7 344.59H566.3M562.7 371.8H566.3" stroke="#ff1a1a" stroke-width="1" stroke-opacity="0.82" fill="none"/>
<path d="M570.5 354.41V371.8M568.7 354.41H572.3M568.7 371.8H572.3" stroke="#ff1a1a" stroke-width="1" stroke-opacity="0.82" fill="none"/>
<path d="M576.5 357.06V371.76M574.7 357.06H578.3M574.7 371.76H578.3" stroke="#ff1a1a" stroke-width="1" stroke-opacity="0.82" fill="none"/>
<path d="M582.5 357.64V371.8M580.7 357.64H584.3M580.7 371.8H584.3" stroke="#ff1a1a" stroke-width="1" stroke-opacity="0.82" fill="none"/>
<path d="M594.5 322.09V367.9M592.7 322.09H596.3M592.7 367.9H596.3" stroke="#ff1a1a" stroke-width="1" stroke-opacity="0.82" fill="none"/>
<path d="M600.5 339.07V368.49M598.7 339.07H602.3M598.7 368.49H602.3" stroke="#ff1a1a" stroke-width="1" stroke-opacity="0.82" fill="none"/>
<path d="M605.5 299.55V368.67M603.7 299.55H607.3M603.7 368.67H607.3" stroke="#ff1a1a" stroke-width="1" stroke-opacity="0.82" fill="none"/>
<path d="M611.5 339.41V368.82M609.7 339.41H613.3M609.7 368.82H613.3" stroke="#ff1a1a" stroke-width="1" stroke-opacity="0.82" fill="none"/>
<path d="M616.5 355.14V369.85M614.7 355.14H618.3M614.7 369.85H618.3" stroke="#ff1a1a" stroke-width="1" stroke-opacity="0.82" fill="none"/>
<path d="M638.5 327.82V371.8M636.7 327.82H640.3M636.7 371.8H640.3" stroke="#ff1a1a" stroke-width="1" stroke-opacity="0.82" fill="none"/>
<path d="M660.5 310.21V371.8M658.7 310.21H662.3M658.7 371.8H662.3" stroke="#ff1a1a" stroke-width="1" stroke-opacity="0.82" fill="none"/>
<path d="M682.5 317.71V371.8M680.7 317.71H684.3M680.7 371.8H684.3" stroke="#ff1a1a" stroke-width="1" stroke-opacity="0.82" fill="none"/>
<path d="M545.85 336.1 L552 344.52 L558.15 352.39 L564.3 359.3 L570.45 363.6 L576.6 364.41 L582.75 365 L594.5 344.99 L600 353.78 L605.5 334.11 L611 354.11 L616.5 362.5 L638.5 349.89 L660.5 342.2 L682.5 347.5" stroke="#ff1a1a" stroke-width="1.1" fill="none"/>
<rect x="544.05" y="334.3" width="3.6" height="3.6" fill="#ff1a1a"/>
<rect x="550.2" y="342.72" width="3.6" height="3.6" fill="#ff1a1a"/>
<rect x="556.35" y="350.59" width="3.6" height="3.6" fill="#ff1a1a"/>
<rect x="562.5" y="357.5" width="3.6" height="3.6" fill="#ff1a1a"/>
<rect x="568.65" y="361.8" width="3.6" height="3.6" fill="#ff1a1a"/>
<rect x="574.8" y="362.61" width="3.6" height="3.6" fill="#ff1a1a"/>
<rect x="580.95" y="363.2" width="3.6" height="3.6" fill="#ff1a1a"/>
<rect x="592.7" y="343.19" width="3.6" height="3.6" fill="#ff1a1a"/>
<rect x="598.2" y="351.98" width="3.6" height="3.6" fill="#ff1a1a"/>
<rect x="603.7" y="332.31" width="3.6" height="3.6" fill="#ff1a1a"/>
<rect x="609.2" y="352.31" width="3.6" height="3.6" fill="#ff1a1a"/>
<rect x="614.7" y="360.7" width="3.6" height="3.6" fill="#ff1a1a"/>
<rect x="636.7" y="348.09" width="3.6" height="3.6" fill="#ff1a1a"/>
<rect x="658.7" y="340.4" width="3.6" height="3.6" fill="#ff1a1a"/>
<rect x="680.7" y="345.7" width="3.6" height="3.6" fill="#ff1a1a"/>
<path d="M546.5 334.81V355.99M544.7 334.81H548.3M544.7 355.99H548.3" stroke="#2424d6" stroke-width="1" stroke-opacity="0.82" fill="none"/>
<path d="M553.5 296.31V357.72M551.7 296.31H555.3M551.7 357.72H555.3" stroke="#2424d6" stroke-width="1" stroke-opacity="0.82" fill="none"/>
<path d="M559.5 320.69V351.5M557.7 320.69H561.3M557.7 351.5H561.3" stroke="#2424d6" stroke-width="1" stroke-opacity="0.82" fill="none"/>
<path d="M565.5 322.09V360.33M563.7 322.09H567.3M563.7 360.33H567.3" stroke="#2424d6" stroke-width="1" stroke-opacity="0.82" fill="none"/>
<path d="M571.5 279.03V366.54M569.7 279.03H573.3M569.7 366.54H573.3" stroke="#2424d6" stroke-width="1" stroke-opacity="0.82" fill="none"/>
<path d="M577.5 338.19V366.58M575.7 338.19H579.3M575.7 366.58H579.3" stroke="#2424d6" stroke-width="1" stroke-opacity="0.82" fill="none"/>
<path d="M583.5 326.39V364.41M581.7 326.39H585.3M581.7 364.41H585.3" stroke="#2424d6" stroke-width="1" stroke-opacity="0.82" fill="none"/>
<path d="M595.5 329.11V365.88M593.7 329.11H597.3M593.7 365.88H597.3" stroke="#2424d6" stroke-width="1" stroke-opacity="0.82" fill="none"/>
<path d="M601.5 329.59V361.21M599.7 329.59H603.3M599.7 361.21H603.3" stroke="#2424d6" stroke-width="1" stroke-opacity="0.82" fill="none"/>
<path d="M606.5 325.43V357.79M604.7 325.43H608.3M604.7 357.79H608.3" stroke="#2424d6" stroke-width="1" stroke-opacity="0.82" fill="none"/>
<path d="M612.5 329.88V359.3M610.7 329.88H614.3M610.7 359.3H614.3" stroke="#2424d6" stroke-width="1" stroke-opacity="0.82" fill="none"/>
<path d="M617.5 326.13V354.08M615.7 326.13H619.3M615.7 354.08H619.3" stroke="#2424d6" stroke-width="1" stroke-opacity="0.82" fill="none"/>
<path d="M639.5 285.39V364.81M637.7 285.39H641.3M637.7 364.81H641.3" stroke="#2424d6" stroke-width="1" stroke-opacity="0.82" fill="none"/>
<path d="M661.5 296.2V362.98M659.7 296.2H663.3M659.7 362.98H663.3" stroke="#2424d6" stroke-width="1" stroke-opacity="0.82" fill="none"/>
<path d="M683.5 308.11V371.8M681.7 308.11H685.3M681.7 371.8H685.3" stroke="#2424d6" stroke-width="1" stroke-opacity="0.82" fill="none"/>
<path d="M545.85 345.4 L552 327.01 L558.15 336.1 L564.3 341.21 L570.45 322.79 L576.6 352.39 L582.75 345.4 L594.5 347.5 L600 345.4 L605.5 341.61 L611 344.59 L616.5 340.1 L638.5 325.1 L660.5 329.59 L682.5 341.61" stroke="#2424d6" stroke-width="1.1" fill="none"/>
<path d="M545.85 342.98L547.95 347.08L543.75 347.08Z" fill="#2424d6"/>
<path d="M552 324.6L554.1 328.69L549.9 328.69Z" fill="#2424d6"/>
<path d="M558.15 333.68L560.25 337.78L556.05 337.78Z" fill="#2424d6"/>
<path d="M564.3 338.79L566.4 342.89L562.2 342.89Z" fill="#2424d6"/>
<path d="M570.45 320.37L572.55 324.47L568.35 324.47Z" fill="#2424d6"/>
<path d="M576.6 349.97L578.7 354.07L574.5 354.07Z" fill="#2424d6"/>
<path d="M582.75 342.98L584.85 347.08L580.65 347.08Z" fill="#2424d6"/>
<path d="M594.5 345.08L596.6 349.18L592.4 349.18Z" fill="#2424d6"/>
<path d="M600 342.98L602.1 347.08L597.9 347.08Z" fill="#2424d6"/>
<path d="M605.5 339.2L607.6 343.29L603.4 343.29Z" fill="#2424d6"/>
<path d="M611 342.18L613.1 346.27L608.9 346.27Z" fill="#2424d6"/>
<path d="M616.5 337.69L618.6 341.78L614.4 341.78Z" fill="#2424d6"/>
<path d="M638.5 322.69L640.6 326.78L636.4 326.78Z" fill="#2424d6"/>
<path d="M660.5 327.17L662.6 331.27L658.4 331.27Z" fill="#2424d6"/>
<path d="M682.5 339.2L684.6 343.29L680.4 343.29Z" fill="#2424d6"/>
</g>
<path d="M539.3 261.49V371.8" stroke="#111" stroke-width="1.7" fill="none"/>
<path d="M538.25 371.8H592M593.6 371.8H683" stroke="#111" stroke-width="1.7" fill="none"/>
<path d="M591.8 370V372.6M593.8 370V372.6" stroke="#222" stroke-width="0.9" fill="none"/>
<text x="536.7" y="374.3" font-size="7.2" text-anchor="end" font-family="Liberation Sans, sans-serif" font-weight="bold" fill="#111">0</text>
<text x="536.7" y="337.53" font-size="7.2" text-anchor="end" font-family="Liberation Sans, sans-serif" font-weight="bold" fill="#111">100</text>
<text x="536.7" y="300.76" font-size="7.2" text-anchor="end" font-family="Liberation Sans, sans-serif" font-weight="bold" fill="#111">200</text>
<text x="536.7" y="263.99" font-size="7.2" text-anchor="end" font-family="Liberation Sans, sans-serif" font-weight="bold" fill="#111">300</text>
<text x="552" y="381.8" font-size="8.1" text-anchor="middle" font-family="Liberation Sans, sans-serif" font-weight="bold" stroke="#111" stroke-width="0.2" fill="#111">0</text>
<text x="576.6" y="381.8" font-size="8.1" text-anchor="middle" font-family="Liberation Sans, sans-serif" font-weight="bold" stroke="#111" stroke-width="0.2" fill="#111">1</text>
<text x="594.5" y="381.8" font-size="8.1" text-anchor="middle" font-family="Liberation Sans, sans-serif" font-weight="bold" stroke="#111" stroke-width="0.2" fill="#111">0</text>
<text x="616.5" y="381.8" font-size="8.1" text-anchor="middle" font-family="Liberation Sans, sans-serif" font-weight="bold" stroke="#111" stroke-width="0.2" fill="#111">1</text>
<text x="638.5" y="381.8" font-size="8.1" text-anchor="middle" font-family="Liberation Sans, sans-serif" font-weight="bold" stroke="#111" stroke-width="0.2" fill="#111">2</text>
<text x="660.5" y="381.8" font-size="8.1" text-anchor="middle" font-family="Liberation Sans, sans-serif" font-weight="bold" stroke="#111" stroke-width="0.2" fill="#111">3</text>
<text x="682.5" y="381.8" font-size="8.1" text-anchor="middle" font-family="Liberation Sans, sans-serif" font-weight="bold" stroke="#111" stroke-width="0.2" fill="#111">4</text>
<path d="M536.5 371.8H539M536.5 335.03H539M536.5 298.26H539M536.5 261.49H539M537.5 353.42H539M537.5 316.64H539M537.5 279.88H539M552 371.8V374.8M576.6 371.8V374.8M545.85 371.8V373.3M558.15 371.8V373.3M564.3 371.8V373.3M570.45 371.8V373.3M582.75 371.8V373.3M588.9 371.8V373.3M594.5 371.8V374.8M616.5 371.8V374.8M638.5 371.8V374.8M660.5 371.8V374.8M682.5 371.8V374.8M600 371.8V373.3M605.5 371.8V373.3M611 371.8V373.3M622 371.8V373.3M627.5 371.8V373.3M633 371.8V373.3M644 371.8V373.3M649.5 371.8V373.3M655 371.8V373.3M666 371.8V373.3M671.5 371.8V373.3M677 371.8V373.3" stroke="#111" stroke-width="1.1" fill="none"/>
<text x="111.1" y="11.5" font-size="14.6" text-anchor="middle" font-family="Liberation Sans, sans-serif" font-weight="bold" fill="#000">brain</text>
<text x="291.1" y="11.5" font-size="14.6" text-anchor="middle" font-family="Liberation Sans, sans-serif" font-weight="bold" fill="#000">kidney</text>
<text x="453.3" y="11.5" font-size="14.6" text-anchor="middle" font-family="Liberation Sans, sans-serif" font-weight="bold" fill="#000">liver</text>
<text x="627.9" y="11.5" font-size="14.6" text-anchor="middle" font-family="Liberation Sans, sans-serif" font-weight="bold" fill="#000">muscle</text>
<text x="0.6" y="23.0" font-size="15.6" font-family="Liberation Sans, sans-serif" font-weight="bold" stroke="#000" stroke-width="0.12" fill="#000">A</text>
<text x="1.0" y="149" font-size="15.6" font-family="Liberation Sans, sans-serif" font-weight="bold" stroke="#000" stroke-width="0.12" fill="#000">B</text>
<text x="0.9" y="272.7" font-size="15.6" font-family="Liberation Sans, sans-serif" font-weight="bold" stroke="#000" stroke-width="0.12" fill="#000">C</text>
<text transform="translate(22.9 64.2) rotate(-90)" font-size="8.8" text-anchor="middle" font-family="Liberation Sans, sans-serif" font-weight="bold" stroke="#111" stroke-width="0.18" fill="#111">PtO<tspan font-size="6" dy="1.8">2</tspan><tspan dy="-1.8"> (mmHg)</tspan></text>
<text transform="translate(23.0 188.4) rotate(-90)" font-size="8.6" text-anchor="middle" font-family="Liberation Sans, sans-serif" font-weight="bold" stroke="#111" stroke-width="0.18" fill="#111">lactate (mM)</text>
<text transform="translate(21.2 315.2) rotate(-90)" font-size="8.55" text-anchor="middle" font-family="Liberation Sans, sans-serif" font-weight="bold" stroke="#111" stroke-width="0.18" fill="#111">capillary flow (% baseline)</text>
<text x="67.3" y="389.6" font-size="8.5" text-anchor="middle" font-family="Liberation Sans, sans-serif" font-weight="bold" stroke="#111" stroke-width="0.28" fill="#111">Haemorrhage</text>
<text x="67.3" y="398.6" font-size="8.5" text-anchor="middle" font-family="Liberation Sans, sans-serif" font-weight="bold" stroke="#111" stroke-width="0.28" fill="#111">(hours)</text>
<text x="140.3" y="389.6" font-size="8.5" text-anchor="middle" font-family="Liberation Sans, sans-serif" font-weight="bold" stroke="#111" stroke-width="0.28" fill="#111">Resuscitation</text>
<text x="140.3" y="398.6" font-size="8.5" text-anchor="middle" font-family="Liberation Sans, sans-serif" font-weight="bold" stroke="#111" stroke-width="0.28" fill="#111">(hours)</text>
<text x="234" y="389.6" font-size="8.5" text-anchor="middle" font-family="Liberation Sans, sans-serif" font-weight="bold" stroke="#111" stroke-width="0.28" fill="#111">Haemorrhage</text>
<text x="234" y="398.6" font-size="8.5" text-anchor="middle" font-family="Liberation Sans, sans-serif" font-weight="bold" stroke="#111" stroke-width="0.28" fill="#111">(hours)</text>
<text x="307" y="389.6" font-size="8.5" text-anchor="middle" font-family="Liberation Sans, sans-serif" font-weight="bold" stroke="#111" stroke-width="0.28" fill="#111">Resuscitation</text>
<text x="307" y="398.6" font-size="8.5" text-anchor="middle" font-family="Liberation Sans, sans-serif" font-weight="bold" stroke="#111" stroke-width="0.28" fill="#111">(hours)</text>
<text x="401.3" y="389.6" font-size="8.5" text-anchor="middle" font-family="Liberation Sans, sans-serif" font-weight="bold" stroke="#111" stroke-width="0.28" fill="#111">Haemorrhage</text>
<text x="401.3" y="398.6" font-size="8.5" text-anchor="middle" font-family="Liberation Sans, sans-serif" font-weight="bold" stroke="#111" stroke-width="0.28" fill="#111">(hours)</text>
<text x="474.3" y="389.6" font-size="8.5" text-anchor="middle" font-family="Liberation Sans, sans-serif" font-weight="bold" stroke="#111" stroke-width="0.28" fill="#111">Resuscitation</text>
<text x="474.3" y="398.6" font-size="8.5" text-anchor="middle" font-family="Liberation Sans, sans-serif" font-weight="bold" stroke="#111" stroke-width="0.28" fill="#111">(hours)</text>
<text x="568" y="389.6" font-size="8.5" text-anchor="middle" font-family="Liberation Sans, sans-serif" font-weight="bold" stroke="#111" stroke-width="0.28" fill="#111">Haemorrhage</text>
<text x="568" y="398.6" font-size="8.5" text-anchor="middle" font-family="Liberation Sans, sans-serif" font-weight="bold" stroke="#111" stroke-width="0.28" fill="#111">(hours)</text>
<text x="641" y="389.6" font-size="8.5" text-anchor="middle" font-family="Liberation Sans, sans-serif" font-weight="bold" stroke="#111" stroke-width="0.28" fill="#111">Resuscitation</text>
<text x="641" y="398.6" font-size="8.5" text-anchor="middle" font-family="Liberation Sans, sans-serif" font-weight="bold" stroke="#111" stroke-width="0.28" fill="#111">(hours)</text>
<path d="M42.8 15.9H49" stroke="#1e8a1e" stroke-width="1.1"/>
<circle cx="45.9" cy="15.9" r="1.9" fill="#1e8a1e"/>
<text x="52.7" y="18.65" font-size="8.2" letter-spacing="0.1" font-family="Liberation Sans, sans-serif" font-weight="bold" fill="#111">PlasmaLyte</text>
<path d="M42.8 24.7H49" stroke="#2424d6" stroke-width="1.1"/>
<path d="M45.9 22.4L48 26.3L43.8 26.3Z" fill="#2424d6"/>
<text x="52.7" y="27.45" font-size="8.2" letter-spacing="0.1" font-family="Liberation Sans, sans-serif" font-weight="bold" fill="#111">ICAS</text>
<path d="M42.8 33.5H49" stroke="#ff1a1a" stroke-width="1.1"/>
<rect x="44.1" y="31.7" width="3.6" height="3.6" fill="#ff1a1a"/>
<text x="52.7" y="36.25" font-size="8.2" letter-spacing="0.1" font-family="Liberation Sans, sans-serif" font-weight="bold" fill="#111">PRBC</text>
<path d="M265.4 33.1 L266.06 34.69 L267.78 34.83 L266.47 35.95 L266.87 37.62 L265.4 36.73 L263.93 37.62 L264.33 35.95 L263.02 34.83 L264.74 34.69Z" fill="#ff2a2a" opacity="0.85"/>
<path d="M271.7 35.3 L272.36 36.89 L274.08 37.03 L272.77 38.15 L273.17 39.82 L271.7 38.92 L270.23 39.82 L270.63 38.15 L269.32 37.03 L271.04 36.89Z" fill="#ff2a2a" opacity="0.85"/>
<path d="M277.1 37.5 L277.76 39.09 L279.48 39.23 L278.17 40.35 L278.57 42.02 L277.1 41.12 L275.63 42.02 L276.03 40.35 L274.72 39.23 L276.44 39.09Z" fill="#ff2a2a" opacity="0.85"/>
<path d="M621.6 363.3 L622.31 365.02 L624.17 365.17 L622.76 366.38 L623.19 368.18 L621.6 367.21 L620.01 368.18 L620.44 366.38 L619.03 365.17 L620.89 365.02Z" fill="#ff3030" opacity="0.8"/>
</svg>
</body></html>
